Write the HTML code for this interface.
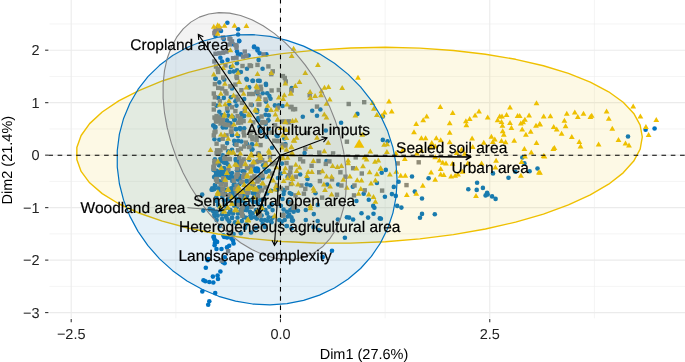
<!DOCTYPE html><html><head><meta charset="utf-8"><title>PCA biplot</title><style>html,body{margin:0;padding:0;background:#fff;overflow:hidden}svg{display:block}</style></head><body><svg width="685" height="362" viewBox="0 0 685 362" text-rendering="geometricPrecision"><rect width="685" height="362" fill="#fff"/><line x1="175.84" y1="0" x2="175.84" y2="318.3" stroke="#EBEBEB" stroke-width="0.55"/><line x1="385.12" y1="0" x2="385.12" y2="318.3" stroke="#EBEBEB" stroke-width="0.55"/><line x1="594.39" y1="0" x2="594.39" y2="318.3" stroke="#EBEBEB" stroke-width="0.55"/><line x1="49.5" y1="23.95" x2="685" y2="23.95" stroke="#EBEBEB" stroke-width="0.55"/><line x1="49.5" y1="76.43" x2="685" y2="76.43" stroke="#EBEBEB" stroke-width="0.55"/><line x1="49.5" y1="128.91" x2="685" y2="128.91" stroke="#EBEBEB" stroke-width="0.55"/><line x1="49.5" y1="181.39" x2="685" y2="181.39" stroke="#EBEBEB" stroke-width="0.55"/><line x1="49.5" y1="233.87" x2="685" y2="233.87" stroke="#EBEBEB" stroke-width="0.55"/><line x1="49.5" y1="286.35" x2="685" y2="286.35" stroke="#EBEBEB" stroke-width="0.55"/><line x1="71.21" y1="0" x2="71.21" y2="318.3" stroke="#EBEBEB" stroke-width="1.1"/><line x1="280.48" y1="0" x2="280.48" y2="318.3" stroke="#EBEBEB" stroke-width="1.1"/><line x1="489.75" y1="0" x2="489.75" y2="318.3" stroke="#EBEBEB" stroke-width="1.1"/><line x1="49.5" y1="50.19" x2="685" y2="50.19" stroke="#EBEBEB" stroke-width="1.1"/><line x1="49.5" y1="102.67" x2="685" y2="102.67" stroke="#EBEBEB" stroke-width="1.1"/><line x1="49.5" y1="155.15" x2="685" y2="155.15" stroke="#EBEBEB" stroke-width="1.1"/><line x1="49.5" y1="207.63" x2="685" y2="207.63" stroke="#EBEBEB" stroke-width="1.1"/><line x1="49.5" y1="260.11" x2="685" y2="260.11" stroke="#EBEBEB" stroke-width="1.1"/><line x1="49.5" y1="312.59" x2="685" y2="312.59" stroke="#EBEBEB" stroke-width="1.1"/><g><circle cx="628.0" cy="136.5" r="2.3" fill="#0073C2"/><circle cx="645.6" cy="129.8" r="2.3" fill="#0073C2"/><circle cx="654.6" cy="128.5" r="2.3" fill="#0073C2"/><circle cx="382.8" cy="116.4" r="2.3" fill="#0073C2"/><circle cx="382.8" cy="139.9" r="2.3" fill="#0073C2"/><circle cx="387.6" cy="141.2" r="2.3" fill="#0073C2"/><circle cx="385.8" cy="169.9" r="2.3" fill="#0073C2"/><circle cx="381.7" cy="172.7" r="2.3" fill="#0073C2"/><circle cx="412.0" cy="176.5" r="2.3" fill="#0073C2"/><circle cx="428.6" cy="178.2" r="2.3" fill="#0073C2"/><circle cx="398.6" cy="181.7" r="2.3" fill="#0073C2"/><circle cx="393.8" cy="186.9" r="2.3" fill="#0073C2"/><circle cx="414.8" cy="191.6" r="2.3" fill="#0073C2"/><circle cx="468.3" cy="189.2" r="2.3" fill="#0073C2"/><circle cx="522.3" cy="157.5" r="2.3" fill="#0073C2"/><circle cx="524.4" cy="163.4" r="2.3" fill="#0073C2"/><circle cx="515.4" cy="171.7" r="2.3" fill="#0073C2"/><circle cx="529.6" cy="171.3" r="2.3" fill="#0073C2"/><circle cx="537.5" cy="168.5" r="2.3" fill="#0073C2"/><circle cx="493.0" cy="173.4" r="2.3" fill="#0073C2"/><circle cx="508.5" cy="177.8" r="2.3" fill="#0073C2"/><circle cx="477.1" cy="182.8" r="2.3" fill="#0073C2"/><circle cx="482.9" cy="187.9" r="2.3" fill="#0073C2"/><circle cx="476.7" cy="189.9" r="2.3" fill="#0073C2"/><circle cx="487.1" cy="192.7" r="2.3" fill="#0073C2"/><circle cx="384.9" cy="196.8" r="2.3" fill="#0073C2"/><circle cx="391.9" cy="194.1" r="2.3" fill="#0073C2"/><circle cx="395.8" cy="195.9" r="2.3" fill="#0073C2"/><circle cx="397.2" cy="205.9" r="2.3" fill="#0073C2"/><circle cx="401.4" cy="207.6" r="2.3" fill="#0073C2"/><circle cx="422.0" cy="198.5" r="2.3" fill="#0073C2"/><circle cx="422.0" cy="213.9" r="2.3" fill="#0073C2"/><circle cx="420.0" cy="217.8" r="2.3" fill="#0073C2"/><circle cx="434.8" cy="214.3" r="2.3" fill="#0073C2"/><circle cx="485.6" cy="195.4" r="2.3" fill="#0073C2"/><circle cx="487.7" cy="194.5" r="2.3" fill="#0073C2"/><circle cx="492.1" cy="196.4" r="2.3" fill="#0073C2"/><circle cx="495.6" cy="198.9" r="2.3" fill="#0073C2"/><circle cx="380.9" cy="218.7" r="2.3" fill="#0073C2"/><circle cx="291.7" cy="88.0" r="2.3" fill="#0073C2"/><circle cx="312.2" cy="110.7" r="2.3" fill="#0073C2"/><circle cx="320.4" cy="109.5" r="2.3" fill="#0073C2"/><circle cx="317.0" cy="115.7" r="2.3" fill="#0073C2"/><circle cx="302.8" cy="116.8" r="2.3" fill="#0073C2"/><circle cx="341.1" cy="122.7" r="2.3" fill="#0073C2"/><circle cx="357.4" cy="113.9" r="2.3" fill="#0073C2"/><circle cx="325.8" cy="130.5" r="2.3" fill="#0073C2"/><circle cx="304.6" cy="153.1" r="2.3" fill="#0073C2"/><circle cx="326.5" cy="161.0" r="2.3" fill="#0073C2"/><circle cx="300.2" cy="174.5" r="2.3" fill="#0073C2"/><circle cx="307.5" cy="178.9" r="2.3" fill="#0073C2"/><circle cx="306.8" cy="184.5" r="2.3" fill="#0073C2"/><circle cx="310.4" cy="185.2" r="2.3" fill="#0073C2"/><circle cx="338.2" cy="184.5" r="2.3" fill="#0073C2"/><circle cx="327.2" cy="184.5" r="2.3" fill="#0073C2"/><circle cx="352.8" cy="186.7" r="2.3" fill="#0073C2"/><circle cx="363.7" cy="193.7" r="2.3" fill="#0073C2"/><circle cx="376.9" cy="183.0" r="2.3" fill="#0073C2"/><circle cx="368.8" cy="199.8" r="2.3" fill="#0073C2"/><circle cx="356.4" cy="201.0" r="2.3" fill="#0073C2"/><circle cx="373.2" cy="205.9" r="2.3" fill="#0073C2"/><circle cx="374.4" cy="207.8" r="2.3" fill="#0073C2"/><circle cx="361.5" cy="213.2" r="2.3" fill="#0073C2"/><circle cx="373.5" cy="213.7" r="2.3" fill="#0073C2"/><circle cx="368.1" cy="217.6" r="2.3" fill="#0073C2"/><circle cx="379.8" cy="218.4" r="2.3" fill="#0073C2"/><circle cx="346.9" cy="217.3" r="2.3" fill="#0073C2"/><circle cx="349.1" cy="217.6" r="2.3" fill="#0073C2"/><circle cx="353.1" cy="219.5" r="2.3" fill="#0073C2"/><circle cx="337.9" cy="219.5" r="2.3" fill="#0073C2"/><circle cx="313.8" cy="214.1" r="2.3" fill="#0073C2"/><circle cx="317.7" cy="221.0" r="2.3" fill="#0073C2"/><circle cx="305.8" cy="220.0" r="2.3" fill="#0073C2"/><circle cx="292.9" cy="220.5" r="2.3" fill="#0073C2"/><circle cx="293.6" cy="210.8" r="2.3" fill="#0073C2"/><circle cx="298.0" cy="210.8" r="2.3" fill="#0073C2"/><circle cx="305.8" cy="210.0" r="2.3" fill="#0073C2"/><circle cx="317.7" cy="204.9" r="2.3" fill="#0073C2"/><circle cx="315.5" cy="193.2" r="2.3" fill="#0073C2"/><circle cx="291.5" cy="194.0" r="2.3" fill="#0073C2"/><circle cx="290.7" cy="202.7" r="2.3" fill="#0073C2"/><circle cx="286.5" cy="226.0" r="2.3" fill="#0073C2"/><circle cx="291.6" cy="228.2" r="2.3" fill="#0073C2"/><circle cx="313.5" cy="227.1" r="2.3" fill="#0073C2"/><circle cx="318.9" cy="230.0" r="2.3" fill="#0073C2"/><circle cx="344.9" cy="237.7" r="2.3" fill="#0073C2"/><circle cx="332.0" cy="250.8" r="2.3" fill="#0073C2"/><circle cx="322.7" cy="257.1" r="2.3" fill="#0073C2"/><circle cx="213.5" cy="236.9" r="2.3" fill="#0073C2"/><circle cx="214.3" cy="239.1" r="2.3" fill="#0073C2"/><circle cx="215.4" cy="240.8" r="2.3" fill="#0073C2"/><circle cx="217.1" cy="241.9" r="2.3" fill="#0073C2"/><circle cx="214.9" cy="243.0" r="2.3" fill="#0073C2"/><circle cx="214.6" cy="245.2" r="2.3" fill="#0073C2"/><circle cx="224.2" cy="236.9" r="2.3" fill="#0073C2"/><circle cx="227.0" cy="237.5" r="2.3" fill="#0073C2"/><circle cx="231.4" cy="238.6" r="2.3" fill="#0073C2"/><circle cx="233.1" cy="240.8" r="2.3" fill="#0073C2"/><circle cx="233.6" cy="243.5" r="2.3" fill="#0073C2"/><circle cx="229.2" cy="245.7" r="2.3" fill="#0073C2"/><circle cx="227.0" cy="247.4" r="2.3" fill="#0073C2"/><circle cx="221.5" cy="249.0" r="2.3" fill="#0073C2"/><circle cx="216.5" cy="249.0" r="2.3" fill="#0073C2"/><circle cx="208.2" cy="259.0" r="2.3" fill="#0073C2"/><circle cx="224.8" cy="257.3" r="2.3" fill="#0073C2"/><circle cx="207.7" cy="260.2" r="2.3" fill="#0073C2"/><circle cx="222.7" cy="262.1" r="2.3" fill="#0073C2"/><circle cx="224.6" cy="263.3" r="2.3" fill="#0073C2"/><circle cx="205.8" cy="267.7" r="2.3" fill="#0073C2"/><circle cx="220.4" cy="271.5" r="2.3" fill="#0073C2"/><circle cx="217.6" cy="275.5" r="2.3" fill="#0073C2"/><circle cx="212.9" cy="276.6" r="2.3" fill="#0073C2"/><circle cx="218.0" cy="279.0" r="2.3" fill="#0073C2"/><circle cx="203.5" cy="280.2" r="2.3" fill="#0073C2"/><circle cx="205.4" cy="281.3" r="2.3" fill="#0073C2"/><circle cx="209.3" cy="282.0" r="2.3" fill="#0073C2"/><circle cx="213.3" cy="282.5" r="2.3" fill="#0073C2"/><circle cx="202.3" cy="291.4" r="2.3" fill="#0073C2"/><circle cx="215.2" cy="293.1" r="2.3" fill="#0073C2"/><circle cx="209.3" cy="301.3" r="2.3" fill="#0073C2"/><circle cx="208.2" cy="304.8" r="2.3" fill="#0073C2"/><circle cx="227.4" cy="22.7" r="2.3" fill="#0073C2"/><circle cx="221.0" cy="31.0" r="2.3" fill="#0073C2"/><circle cx="238.1" cy="29.3" r="2.3" fill="#0073C2"/><circle cx="238.1" cy="34.5" r="2.3" fill="#0073C2"/><circle cx="239.2" cy="40.9" r="2.3" fill="#0073C2"/><circle cx="215.5" cy="36.0" r="2.3" fill="#0073C2"/><circle cx="223.8" cy="39.0" r="2.3" fill="#0073C2"/><circle cx="254.1" cy="46.5" r="2.3" fill="#0073C2"/><circle cx="257.5" cy="48.7" r="2.3" fill="#0073C2"/><circle cx="233.1" cy="44.3" r="2.3" fill="#0073C2"/><circle cx="239.2" cy="41.1" r="2.3" fill="#0073C2"/><circle cx="254.1" cy="47.2" r="2.3" fill="#0073C2"/><circle cx="257.5" cy="50.5" r="2.3" fill="#0073C2"/><circle cx="237.0" cy="51.6" r="2.3" fill="#0073C2"/><circle cx="238.1" cy="54.4" r="2.3" fill="#0073C2"/><circle cx="240.9" cy="54.4" r="2.3" fill="#0073C2"/><circle cx="248.6" cy="55.5" r="2.3" fill="#0073C2"/><circle cx="227.6" cy="59.9" r="2.3" fill="#0073C2"/><circle cx="220.4" cy="57.7" r="2.3" fill="#0073C2"/><circle cx="222.1" cy="61.5" r="2.3" fill="#0073C2"/><circle cx="237.0" cy="63.2" r="2.3" fill="#0073C2"/><circle cx="230.9" cy="67.1" r="2.3" fill="#0073C2"/><circle cx="229.8" cy="72.0" r="2.3" fill="#0073C2"/><circle cx="233.7" cy="71.5" r="2.3" fill="#0073C2"/><circle cx="237.0" cy="70.4" r="2.3" fill="#0073C2"/><circle cx="240.9" cy="72.0" r="2.3" fill="#0073C2"/><circle cx="247.0" cy="68.7" r="2.3" fill="#0073C2"/><circle cx="258.6" cy="59.9" r="2.3" fill="#0073C2"/><circle cx="246.4" cy="78.7" r="2.3" fill="#0073C2"/><circle cx="215.5" cy="78.7" r="2.3" fill="#0073C2"/><circle cx="259.7" cy="53.3" r="2.3" fill="#0073C2"/><circle cx="266.4" cy="54.4" r="2.3" fill="#0073C2"/><circle cx="262.6" cy="68.7" r="2.3" fill="#0073C2"/><circle cx="252.9" cy="80.9" r="2.3" fill="#0073C2"/><circle cx="259.7" cy="80.9" r="2.3" fill="#0073C2"/><circle cx="265.9" cy="83.8" r="2.3" fill="#0073C2"/><circle cx="215.5" cy="78.6" r="2.3" fill="#0073C2"/><circle cx="224.3" cy="79.7" r="2.3" fill="#0073C2"/><circle cx="247.0" cy="79.7" r="2.3" fill="#0073C2"/><circle cx="252.5" cy="80.8" r="2.3" fill="#0073C2"/><circle cx="258.0" cy="80.8" r="2.3" fill="#0073C2"/><circle cx="219.3" cy="82.4" r="2.3" fill="#0073C2"/><circle cx="232.0" cy="88.5" r="2.3" fill="#0073C2"/><circle cx="249.2" cy="87.4" r="2.3" fill="#0073C2"/><circle cx="257.5" cy="93.5" r="2.3" fill="#0073C2"/><circle cx="223.8" cy="97.9" r="2.3" fill="#0073C2"/><circle cx="230.9" cy="97.3" r="2.3" fill="#0073C2"/><circle cx="218.2" cy="97.9" r="2.3" fill="#0073C2"/><circle cx="235.4" cy="101.2" r="2.3" fill="#0073C2"/><circle cx="236.5" cy="105.6" r="2.3" fill="#0073C2"/><circle cx="244.2" cy="99.0" r="2.3" fill="#0073C2"/><circle cx="251.9" cy="105.1" r="2.3" fill="#0073C2"/><circle cx="216.6" cy="105.6" r="2.3" fill="#0073C2"/><circle cx="229.3" cy="104.5" r="2.3" fill="#0073C2"/><circle cx="219.3" cy="111.7" r="2.3" fill="#0073C2"/><circle cx="227.6" cy="111.1" r="2.3" fill="#0073C2"/><circle cx="241.4" cy="113.4" r="2.3" fill="#0073C2"/><circle cx="256.9" cy="112.3" r="2.3" fill="#0073C2"/><circle cx="228.2" cy="115.6" r="2.3" fill="#0073C2"/><circle cx="242.0" cy="116.7" r="2.3" fill="#0073C2"/><circle cx="266.0" cy="85.0" r="2.3" fill="#0073C2"/><circle cx="256.7" cy="91.6" r="2.3" fill="#0073C2"/><circle cx="262.7" cy="93.3" r="2.3" fill="#0073C2"/><circle cx="267.2" cy="93.3" r="2.3" fill="#0073C2"/><circle cx="269.4" cy="96.0" r="2.3" fill="#0073C2"/><circle cx="270.5" cy="98.8" r="2.3" fill="#0073C2"/><circle cx="266.0" cy="101.6" r="2.3" fill="#0073C2"/><circle cx="274.9" cy="105.4" r="2.3" fill="#0073C2"/><circle cx="278.8" cy="105.4" r="2.3" fill="#0073C2"/><circle cx="282.6" cy="106.0" r="2.3" fill="#0073C2"/><circle cx="266.6" cy="109.9" r="2.3" fill="#0073C2"/><circle cx="257.2" cy="110.4" r="2.3" fill="#0073C2"/><circle cx="265.5" cy="114.8" r="2.3" fill="#0073C2"/><circle cx="268.8" cy="115.4" r="2.3" fill="#0073C2"/><circle cx="268.3" cy="120.4" r="2.3" fill="#0073C2"/><circle cx="258.3" cy="120.4" r="2.3" fill="#0073C2"/><circle cx="213.3" cy="125.5" r="2.3" fill="#0073C2"/><circle cx="215.5" cy="127.1" r="2.3" fill="#0073C2"/><circle cx="222.7" cy="127.1" r="2.3" fill="#0073C2"/><circle cx="226.5" cy="120.5" r="2.3" fill="#0073C2"/><circle cx="230.4" cy="123.3" r="2.3" fill="#0073C2"/><circle cx="234.2" cy="120.0" r="2.3" fill="#0073C2"/><circle cx="232.6" cy="116.7" r="2.3" fill="#0073C2"/><circle cx="244.2" cy="116.1" r="2.3" fill="#0073C2"/><circle cx="235.9" cy="129.3" r="2.3" fill="#0073C2"/><circle cx="240.3" cy="129.3" r="2.3" fill="#0073C2"/><circle cx="244.2" cy="128.2" r="2.3" fill="#0073C2"/><circle cx="232.0" cy="134.9" r="2.3" fill="#0073C2"/><circle cx="214.4" cy="139.3" r="2.3" fill="#0073C2"/><circle cx="219.3" cy="139.8" r="2.3" fill="#0073C2"/><circle cx="227.1" cy="143.1" r="2.3" fill="#0073C2"/><circle cx="234.2" cy="140.9" r="2.3" fill="#0073C2"/><circle cx="238.1" cy="140.9" r="2.3" fill="#0073C2"/><circle cx="241.4" cy="141.5" r="2.3" fill="#0073C2"/><circle cx="234.8" cy="144.2" r="2.3" fill="#0073C2"/><circle cx="232.0" cy="149.8" r="2.3" fill="#0073C2"/><circle cx="228.2" cy="151.4" r="2.3" fill="#0073C2"/><circle cx="246.9" cy="143.7" r="2.3" fill="#0073C2"/><circle cx="251.9" cy="144.2" r="2.3" fill="#0073C2"/><circle cx="252.5" cy="149.2" r="2.3" fill="#0073C2"/><circle cx="238.1" cy="136.0" r="2.3" fill="#0073C2"/><circle cx="258.3" cy="118.0" r="2.3" fill="#0073C2"/><circle cx="268.2" cy="120.2" r="2.3" fill="#0073C2"/><circle cx="259.4" cy="126.8" r="2.3" fill="#0073C2"/><circle cx="260.5" cy="131.3" r="2.3" fill="#0073C2"/><circle cx="266.6" cy="136.8" r="2.3" fill="#0073C2"/><circle cx="277.6" cy="136.2" r="2.3" fill="#0073C2"/><circle cx="284.3" cy="138.4" r="2.3" fill="#0073C2"/><circle cx="285.4" cy="144.0" r="2.3" fill="#0073C2"/><circle cx="272.1" cy="147.8" r="2.3" fill="#0073C2"/><circle cx="252.2" cy="144.5" r="2.3" fill="#0073C2"/><circle cx="251.7" cy="150.0" r="2.3" fill="#0073C2"/><circle cx="258.8" cy="153.4" r="2.3" fill="#0073C2"/><circle cx="214.9" cy="159.2" r="2.3" fill="#0073C2"/><circle cx="222.7" cy="160.8" r="2.3" fill="#0073C2"/><circle cx="225.4" cy="163.0" r="2.3" fill="#0073C2"/><circle cx="222.7" cy="155.3" r="2.3" fill="#0073C2"/><circle cx="235.9" cy="160.8" r="2.3" fill="#0073C2"/><circle cx="249.2" cy="159.7" r="2.3" fill="#0073C2"/><circle cx="216.0" cy="172.4" r="2.3" fill="#0073C2"/><circle cx="215.5" cy="175.7" r="2.3" fill="#0073C2"/><circle cx="219.3" cy="174.1" r="2.3" fill="#0073C2"/><circle cx="222.7" cy="173.5" r="2.3" fill="#0073C2"/><circle cx="232.0" cy="173.0" r="2.3" fill="#0073C2"/><circle cx="238.1" cy="169.7" r="2.3" fill="#0073C2"/><circle cx="242.5" cy="171.3" r="2.3" fill="#0073C2"/><circle cx="229.3" cy="177.9" r="2.3" fill="#0073C2"/><circle cx="232.6" cy="177.4" r="2.3" fill="#0073C2"/><circle cx="238.1" cy="179.6" r="2.3" fill="#0073C2"/><circle cx="246.9" cy="180.7" r="2.3" fill="#0073C2"/><circle cx="214.9" cy="185.1" r="2.3" fill="#0073C2"/><circle cx="212.2" cy="188.4" r="2.3" fill="#0073C2"/><circle cx="218.2" cy="188.4" r="2.3" fill="#0073C2"/><circle cx="233.7" cy="185.1" r="2.3" fill="#0073C2"/><circle cx="232.6" cy="188.4" r="2.3" fill="#0073C2"/><circle cx="237.0" cy="190.1" r="2.3" fill="#0073C2"/><circle cx="244.2" cy="190.6" r="2.3" fill="#0073C2"/><circle cx="219.3" cy="165.2" r="2.3" fill="#0073C2"/><circle cx="224.0" cy="168.0" r="2.3" fill="#0073C2"/><circle cx="227.5" cy="170.5" r="2.3" fill="#0073C2"/><circle cx="213.5" cy="170.0" r="2.3" fill="#0073C2"/><circle cx="258.3" cy="160.8" r="2.3" fill="#0073C2"/><circle cx="264.4" cy="167.5" r="2.3" fill="#0073C2"/><circle cx="268.8" cy="170.8" r="2.3" fill="#0073C2"/><circle cx="262.2" cy="177.4" r="2.3" fill="#0073C2"/><circle cx="282.0" cy="163.6" r="2.3" fill="#0073C2"/><circle cx="280.9" cy="173.5" r="2.3" fill="#0073C2"/><circle cx="287.6" cy="176.9" r="2.3" fill="#0073C2"/><circle cx="252.2" cy="185.7" r="2.3" fill="#0073C2"/><circle cx="258.8" cy="187.4" r="2.3" fill="#0073C2"/><circle cx="271.0" cy="190.7" r="2.3" fill="#0073C2"/><circle cx="284.3" cy="190.7" r="2.3" fill="#0073C2"/><circle cx="266.0" cy="172.0" r="2.3" fill="#0073C2"/><circle cx="278.0" cy="178.0" r="2.3" fill="#0073C2"/><circle cx="211.6" cy="189.7" r="2.3" fill="#0073C2"/><circle cx="214.3" cy="189.1" r="2.3" fill="#0073C2"/><circle cx="202.2" cy="194.6" r="2.3" fill="#0073C2"/><circle cx="203.3" cy="210.6" r="2.3" fill="#0073C2"/><circle cx="209.9" cy="209.5" r="2.3" fill="#0073C2"/><circle cx="213.2" cy="211.2" r="2.3" fill="#0073C2"/><circle cx="216.6" cy="211.7" r="2.3" fill="#0073C2"/><circle cx="214.3" cy="214.5" r="2.3" fill="#0073C2"/><circle cx="217.7" cy="215.6" r="2.3" fill="#0073C2"/><circle cx="222.1" cy="214.5" r="2.3" fill="#0073C2"/><circle cx="225.9" cy="216.1" r="2.3" fill="#0073C2"/><circle cx="228.7" cy="213.9" r="2.3" fill="#0073C2"/><circle cx="230.4" cy="210.1" r="2.3" fill="#0073C2"/><circle cx="233.1" cy="213.4" r="2.3" fill="#0073C2"/><circle cx="238.1" cy="213.4" r="2.3" fill="#0073C2"/><circle cx="240.8" cy="210.1" r="2.3" fill="#0073C2"/><circle cx="244.2" cy="207.3" r="2.3" fill="#0073C2"/><circle cx="246.4" cy="210.1" r="2.3" fill="#0073C2"/><circle cx="243.0" cy="215.6" r="2.3" fill="#0073C2"/><circle cx="246.4" cy="217.8" r="2.3" fill="#0073C2"/><circle cx="237.5" cy="217.8" r="2.3" fill="#0073C2"/><circle cx="232.0" cy="217.8" r="2.3" fill="#0073C2"/><circle cx="227.6" cy="219.5" r="2.3" fill="#0073C2"/><circle cx="222.1" cy="218.9" r="2.3" fill="#0073C2"/><circle cx="216.6" cy="220.0" r="2.3" fill="#0073C2"/><circle cx="234.2" cy="205.7" r="2.3" fill="#0073C2"/><circle cx="225.4" cy="189.7" r="2.3" fill="#0073C2"/><circle cx="230.9" cy="190.2" r="2.3" fill="#0073C2"/><circle cx="233.1" cy="194.1" r="2.3" fill="#0073C2"/><circle cx="237.5" cy="199.0" r="2.3" fill="#0073C2"/><circle cx="241.9" cy="200.7" r="2.3" fill="#0073C2"/><circle cx="245.3" cy="203.5" r="2.3" fill="#0073C2"/><circle cx="246.4" cy="224.4" r="2.3" fill="#0073C2"/><circle cx="236.4" cy="223.3" r="2.3" fill="#0073C2"/><circle cx="241.9" cy="221.1" r="2.3" fill="#0073C2"/><circle cx="219.9" cy="207.3" r="2.3" fill="#0073C2"/><circle cx="226.5" cy="207.9" r="2.3" fill="#0073C2"/><circle cx="238.0" cy="203.0" r="2.3" fill="#0073C2"/><circle cx="229.0" cy="198.0" r="2.3" fill="#0073C2"/><circle cx="244.0" cy="196.0" r="2.3" fill="#0073C2"/><circle cx="248.3" cy="191.3" r="2.3" fill="#0073C2"/><circle cx="252.7" cy="193.0" r="2.3" fill="#0073C2"/><circle cx="247.2" cy="207.9" r="2.3" fill="#0073C2"/><circle cx="250.0" cy="211.7" r="2.3" fill="#0073C2"/><circle cx="252.7" cy="213.4" r="2.3" fill="#0073C2"/><circle cx="250.5" cy="215.6" r="2.3" fill="#0073C2"/><circle cx="254.9" cy="217.2" r="2.3" fill="#0073C2"/><circle cx="261.6" cy="215.6" r="2.3" fill="#0073C2"/><circle cx="265.4" cy="210.1" r="2.3" fill="#0073C2"/><circle cx="267.1" cy="213.4" r="2.3" fill="#0073C2"/><circle cx="268.7" cy="217.2" r="2.3" fill="#0073C2"/><circle cx="264.9" cy="220.0" r="2.3" fill="#0073C2"/><circle cx="270.9" cy="221.1" r="2.3" fill="#0073C2"/><circle cx="262.7" cy="223.9" r="2.3" fill="#0073C2"/><circle cx="269.3" cy="206.8" r="2.3" fill="#0073C2"/><circle cx="272.6" cy="210.1" r="2.3" fill="#0073C2"/><circle cx="272.0" cy="204.6" r="2.3" fill="#0073C2"/><circle cx="264.3" cy="199.0" r="2.3" fill="#0073C2"/><circle cx="267.1" cy="193.5" r="2.3" fill="#0073C2"/><circle cx="277.0" cy="189.7" r="2.3" fill="#0073C2"/><circle cx="283.1" cy="189.7" r="2.3" fill="#0073C2"/><circle cx="283.6" cy="194.1" r="2.3" fill="#0073C2"/><circle cx="282.5" cy="199.0" r="2.3" fill="#0073C2"/><circle cx="280.9" cy="205.7" r="2.3" fill="#0073C2"/><circle cx="283.6" cy="209.5" r="2.3" fill="#0073C2"/><circle cx="283.1" cy="214.5" r="2.3" fill="#0073C2"/><circle cx="286.9" cy="211.7" r="2.3" fill="#0073C2"/><circle cx="290.3" cy="210.1" r="2.3" fill="#0073C2"/><circle cx="293.6" cy="211.7" r="2.3" fill="#0073C2"/><circle cx="289.2" cy="214.5" r="2.3" fill="#0073C2"/><circle cx="291.4" cy="217.2" r="2.3" fill="#0073C2"/><circle cx="284.7" cy="220.0" r="2.3" fill="#0073C2"/><circle cx="279.2" cy="220.0" r="2.3" fill="#0073C2"/><circle cx="292.5" cy="220.6" r="2.3" fill="#0073C2"/><circle cx="288.6" cy="201.8" r="2.3" fill="#0073C2"/><circle cx="292.5" cy="207.9" r="2.3" fill="#0073C2"/><circle cx="289.7" cy="193.0" r="2.3" fill="#0073C2"/><circle cx="272.6" cy="217.8" r="2.3" fill="#0073C2"/><circle cx="260.5" cy="210.1" r="2.3" fill="#0073C2"/><circle cx="256.0" cy="202.0" r="2.3" fill="#0073C2"/><circle cx="251.0" cy="200.0" r="2.3" fill="#0073C2"/><circle cx="214.6" cy="216.5" r="2.3" fill="#0073C2"/><circle cx="226.3" cy="217.2" r="2.3" fill="#0073C2"/><circle cx="232.1" cy="217.9" r="2.3" fill="#0073C2"/><circle cx="243.8" cy="217.2" r="2.3" fill="#0073C2"/><circle cx="251.1" cy="217.9" r="2.3" fill="#0073C2"/><circle cx="256.9" cy="218.6" r="2.3" fill="#0073C2"/><circle cx="261.3" cy="220.1" r="2.3" fill="#0073C2"/><circle cx="267.2" cy="220.8" r="2.3" fill="#0073C2"/><circle cx="271.5" cy="222.3" r="2.3" fill="#0073C2"/><circle cx="281.8" cy="221.6" r="2.3" fill="#0073C2"/><circle cx="287.6" cy="216.5" r="2.3" fill="#0073C2"/><circle cx="292.0" cy="220.8" r="2.3" fill="#0073C2"/><circle cx="286.9" cy="226.0" r="2.3" fill="#0073C2"/><circle cx="229.2" cy="221.6" r="2.3" fill="#0073C2"/><circle cx="235.0" cy="222.3" r="2.3" fill="#0073C2"/><circle cx="251.1" cy="232.5" r="2.3" fill="#0073C2"/><circle cx="240.9" cy="233.2" r="2.3" fill="#0073C2"/><circle cx="233.6" cy="234.0" r="2.3" fill="#0073C2"/><circle cx="223.4" cy="235.4" r="2.3" fill="#0073C2"/><circle cx="227.7" cy="236.9" r="2.3" fill="#0073C2"/><circle cx="213.9" cy="236.9" r="2.3" fill="#0073C2"/><circle cx="245.0" cy="228.0" r="2.3" fill="#0073C2"/><circle cx="256.0" cy="228.0" r="2.3" fill="#0073C2"/><circle cx="220.0" cy="226.0" r="2.3" fill="#0073C2"/><circle cx="265.0" cy="227.0" r="2.3" fill="#0073C2"/><circle cx="220.4" cy="158.8" r="2.3" fill="#0073C2"/><circle cx="221.3" cy="161.3" r="2.3" fill="#0073C2"/><circle cx="224.0" cy="162.4" r="2.3" fill="#0073C2"/><circle cx="226.2" cy="161.9" r="2.3" fill="#0073C2"/><circle cx="219.0" cy="165.2" r="2.3" fill="#0073C2"/><circle cx="216.8" cy="170.7" r="2.3" fill="#0073C2"/><circle cx="216.3" cy="172.9" r="2.3" fill="#0073C2"/><circle cx="219.0" cy="172.4" r="2.3" fill="#0073C2"/><circle cx="221.8" cy="171.3" r="2.3" fill="#0073C2"/><circle cx="223.5" cy="170.7" r="2.3" fill="#0073C2"/><circle cx="222.9" cy="174.0" r="2.3" fill="#0073C2"/><circle cx="220.2" cy="175.1" r="2.3" fill="#0073C2"/><circle cx="216.8" cy="176.2" r="2.3" fill="#0073C2"/><circle cx="230.1" cy="174.0" r="2.3" fill="#0073C2"/><circle cx="231.2" cy="176.2" r="2.3" fill="#0073C2"/><circle cx="226.2" cy="176.8" r="2.3" fill="#0073C2"/><circle cx="235.6" cy="159.1" r="2.3" fill="#0073C2"/><circle cx="237.0" cy="170.2" r="2.3" fill="#0073C2"/><circle cx="227.9" cy="164.6" r="2.3" fill="#0073C2"/><circle cx="237.7" cy="159.7" r="2.3" fill="#0073C2"/><circle cx="238.8" cy="163.5" r="2.3" fill="#0073C2"/><circle cx="238.2" cy="169.9" r="2.3" fill="#0073C2"/><circle cx="244.3" cy="171.3" r="2.3" fill="#0073C2"/><circle cx="248.7" cy="168.2" r="2.3" fill="#0073C2"/><circle cx="239.9" cy="175.7" r="2.3" fill="#0073C2"/><circle cx="260.3" cy="160.2" r="2.3" fill="#0073C2"/><circle cx="263.1" cy="165.2" r="2.3" fill="#0073C2"/><circle cx="214.1" cy="177.1" r="2.3" fill="#0073C2"/><circle cx="215.2" cy="185.4" r="2.3" fill="#0073C2"/><circle cx="212.4" cy="189.8" r="2.3" fill="#0073C2"/><circle cx="219.0" cy="181.0" r="2.3" fill="#0073C2"/><circle cx="221.8" cy="182.1" r="2.3" fill="#0073C2"/><circle cx="229.0" cy="177.7" r="2.3" fill="#0073C2"/><circle cx="232.3" cy="181.0" r="2.3" fill="#0073C2"/><circle cx="234.5" cy="183.7" r="2.3" fill="#0073C2"/><circle cx="231.2" cy="188.2" r="2.3" fill="#0073C2"/><circle cx="232.9" cy="191.5" r="2.3" fill="#0073C2"/><circle cx="235.6" cy="179.3" r="2.3" fill="#0073C2"/><circle cx="225.1" cy="193.7" r="2.3" fill="#0073C2"/><circle cx="230.7" cy="193.7" r="2.3" fill="#0073C2"/><circle cx="219.0" cy="188.7" r="2.3" fill="#0073C2"/><circle cx="220.2" cy="190.9" r="2.3" fill="#0073C2"/><circle cx="237.3" cy="187.0" r="2.3" fill="#0073C2"/><circle cx="237.7" cy="179.3" r="2.3" fill="#0073C2"/><circle cx="240.4" cy="178.2" r="2.3" fill="#0073C2"/><circle cx="246.5" cy="181.5" r="2.3" fill="#0073C2"/><circle cx="239.3" cy="184.3" r="2.3" fill="#0073C2"/><circle cx="259.2" cy="177.1" r="2.3" fill="#0073C2"/><circle cx="262.5" cy="178.2" r="2.3" fill="#0073C2"/><circle cx="260.3" cy="187.0" r="2.3" fill="#0073C2"/><circle cx="257.0" cy="193.7" r="2.3" fill="#0073C2"/><circle cx="254.2" cy="193.1" r="2.3" fill="#0073C2"/><circle cx="244.3" cy="194.2" r="2.3" fill="#0073C2"/><circle cx="216.3" cy="197.3" r="2.3" fill="#0073C2"/><circle cx="216.8" cy="201.2" r="2.3" fill="#0073C2"/><circle cx="218.0" cy="205.0" r="2.3" fill="#0073C2"/><circle cx="209.7" cy="208.9" r="2.3" fill="#0073C2"/><circle cx="213.0" cy="210.0" r="2.3" fill="#0073C2"/><circle cx="221.8" cy="210.6" r="2.3" fill="#0073C2"/><circle cx="225.7" cy="205.0" r="2.3" fill="#0073C2"/><circle cx="224.0" cy="200.6" r="2.3" fill="#0073C2"/><circle cx="229.0" cy="199.5" r="2.3" fill="#0073C2"/><circle cx="235.6" cy="202.3" r="2.3" fill="#0073C2"/><circle cx="234.5" cy="196.2" r="2.3" fill="#0073C2"/><circle cx="230.1" cy="211.7" r="2.3" fill="#0073C2"/><circle cx="236.7" cy="207.3" r="2.3" fill="#0073C2"/><circle cx="222.4" cy="196.8" r="2.3" fill="#0073C2"/><circle cx="240.0" cy="200.0" r="2.3" fill="#0073C2"/><circle cx="245.0" cy="203.0" r="2.3" fill="#0073C2"/><circle cx="250.0" cy="207.0" r="2.3" fill="#0073C2"/><circle cx="244.0" cy="210.0" r="2.3" fill="#0073C2"/><circle cx="240.0" cy="212.0" r="2.3" fill="#0073C2"/><circle cx="250.0" cy="212.0" r="2.3" fill="#0073C2"/><circle cx="256.0" cy="210.0" r="2.3" fill="#0073C2"/><circle cx="262.0" cy="206.0" r="2.3" fill="#0073C2"/><circle cx="260.0" cy="200.0" r="2.3" fill="#0073C2"/><circle cx="254.0" cy="197.0" r="2.3" fill="#0073C2"/><circle cx="247.0" cy="196.0" r="2.3" fill="#0073C2"/><circle cx="243.0" cy="199.0" r="2.3" fill="#0073C2"/><circle cx="258.0" cy="204.0" r="2.3" fill="#0073C2"/><circle cx="253.0" cy="202.0" r="2.3" fill="#0073C2"/><circle cx="265.6" cy="123.8" r="2.3" fill="#0073C2"/><circle cx="268.6" cy="129.0" r="2.3" fill="#0073C2"/><circle cx="276.6" cy="135.5" r="2.3" fill="#0073C2"/><circle cx="213.5" cy="125.5" r="2.3" fill="#0073C2"/><circle cx="215.0" cy="128.0" r="2.3" fill="#0073C2"/><circle cx="223.0" cy="127.5" r="2.3" fill="#0073C2"/><circle cx="226.0" cy="127.5" r="2.3" fill="#0073C2"/><circle cx="227.0" cy="120.5" r="2.3" fill="#0073C2"/><circle cx="228.5" cy="123.0" r="2.3" fill="#0073C2"/><circle cx="235.0" cy="120.0" r="2.3" fill="#0073C2"/><circle cx="236.0" cy="129.0" r="2.3" fill="#0073C2"/><circle cx="240.0" cy="128.0" r="2.3" fill="#0073C2"/><circle cx="221.5" cy="115.0" r="2.3" fill="#0073C2"/><circle cx="232.0" cy="135.0" r="2.3" fill="#0073C2"/><rect x="395.5" y="161.2" width="4.4" height="4.4" fill="#868686"/><rect x="416.5" y="160.1" width="4.4" height="4.4" fill="#868686"/><rect x="404.3" y="182.9" width="4.4" height="4.4" fill="#868686"/><rect x="379.9" y="188.4" width="4.4" height="4.4" fill="#868686"/><rect x="289.3" y="87.9" width="4.4" height="4.4" fill="#868686"/><rect x="289.3" y="104.7" width="4.4" height="4.4" fill="#868686"/><rect x="292.9" y="106.9" width="4.4" height="4.4" fill="#868686"/><rect x="314.8" y="104.4" width="4.4" height="4.4" fill="#868686"/><rect x="346.5" y="101.8" width="4.4" height="4.4" fill="#868686"/><rect x="362.0" y="100.0" width="4.4" height="4.4" fill="#868686"/><rect x="307.5" y="93.0" width="4.4" height="4.4" fill="#868686"/><rect x="344.7" y="139.5" width="4.4" height="4.4" fill="#868686"/><rect x="303.1" y="146.5" width="4.4" height="4.4" fill="#868686"/><rect x="317.0" y="150.4" width="4.4" height="4.4" fill="#868686"/><rect x="330.9" y="151.2" width="4.4" height="4.4" fill="#868686"/><rect x="353.5" y="155.2" width="4.4" height="4.4" fill="#868686"/><rect x="298.0" y="157.0" width="4.4" height="4.4" fill="#868686"/><rect x="300.9" y="159.2" width="4.4" height="4.4" fill="#868686"/><rect x="316.3" y="158.8" width="4.4" height="4.4" fill="#868686"/><rect x="323.6" y="161.7" width="4.4" height="4.4" fill="#868686"/><rect x="309.4" y="163.6" width="4.4" height="4.4" fill="#868686"/><rect x="327.2" y="159.2" width="4.4" height="4.4" fill="#868686"/><rect x="350.9" y="166.0" width="4.4" height="4.4" fill="#868686"/><rect x="359.6" y="171.3" width="4.4" height="4.4" fill="#868686"/><rect x="338.2" y="170.1" width="4.4" height="4.4" fill="#868686"/><rect x="317.0" y="170.1" width="4.4" height="4.4" fill="#868686"/><rect x="343.3" y="174.5" width="4.4" height="4.4" fill="#868686"/><rect x="293.6" y="174.5" width="4.4" height="4.4" fill="#868686"/><rect x="288.5" y="165.5" width="4.4" height="4.4" fill="#868686"/><rect x="288.1" y="170.1" width="4.4" height="4.4" fill="#868686"/><rect x="317.7" y="178.9" width="4.4" height="4.4" fill="#868686"/><rect x="329.8" y="177.2" width="4.4" height="4.4" fill="#868686"/><rect x="339.2" y="183.3" width="4.4" height="4.4" fill="#868686"/><rect x="352.3" y="183.3" width="4.4" height="4.4" fill="#868686"/><rect x="362.5" y="188.1" width="4.4" height="4.4" fill="#868686"/><rect x="299.2" y="183.3" width="4.4" height="4.4" fill="#868686"/><rect x="303.1" y="186.7" width="4.4" height="4.4" fill="#868686"/><rect x="301.7" y="191.5" width="4.4" height="4.4" fill="#868686"/><rect x="293.3" y="193.2" width="4.4" height="4.4" fill="#868686"/><rect x="334.8" y="192.5" width="4.4" height="4.4" fill="#868686"/><rect x="351.8" y="193.2" width="4.4" height="4.4" fill="#868686"/><rect x="319.9" y="195.4" width="4.4" height="4.4" fill="#868686"/><rect x="292.9" y="204.2" width="4.4" height="4.4" fill="#868686"/><rect x="225.9" y="249.0" width="4.4" height="4.4" fill="#868686"/><rect x="212.7" y="29.3" width="4.4" height="4.4" fill="#868686"/><rect x="212.2" y="31.0" width="4.4" height="4.4" fill="#868686"/><rect x="228.2" y="37.1" width="4.4" height="4.4" fill="#868686"/><rect x="229.8" y="39.3" width="4.4" height="4.4" fill="#868686"/><rect x="234.3" y="43.2" width="4.4" height="4.4" fill="#868686"/><rect x="229.3" y="39.5" width="4.4" height="4.4" fill="#868686"/><rect x="227.6" y="42.2" width="4.4" height="4.4" fill="#868686"/><rect x="233.2" y="42.8" width="4.4" height="4.4" fill="#868686"/><rect x="234.3" y="45.5" width="4.4" height="4.4" fill="#868686"/><rect x="213.3" y="51.6" width="4.4" height="4.4" fill="#868686"/><rect x="217.1" y="51.1" width="4.4" height="4.4" fill="#868686"/><rect x="221.0" y="50.5" width="4.4" height="4.4" fill="#868686"/><rect x="224.3" y="49.4" width="4.4" height="4.4" fill="#868686"/><rect x="212.2" y="59.3" width="4.4" height="4.4" fill="#868686"/><rect x="213.8" y="64.3" width="4.4" height="4.4" fill="#868686"/><rect x="215.5" y="67.1" width="4.4" height="4.4" fill="#868686"/><rect x="216.0" y="69.8" width="4.4" height="4.4" fill="#868686"/><rect x="230.9" y="56.0" width="4.4" height="4.4" fill="#868686"/><rect x="234.3" y="55.5" width="4.4" height="4.4" fill="#868686"/><rect x="242.6" y="49.4" width="4.4" height="4.4" fill="#868686"/><rect x="240.9" y="54.4" width="4.4" height="4.4" fill="#868686"/><rect x="244.2" y="53.8" width="4.4" height="4.4" fill="#868686"/><rect x="223.2" y="63.2" width="4.4" height="4.4" fill="#868686"/><rect x="240.3" y="63.8" width="4.4" height="4.4" fill="#868686"/><rect x="247.5" y="63.2" width="4.4" height="4.4" fill="#868686"/><rect x="255.3" y="62.7" width="4.4" height="4.4" fill="#868686"/><rect x="221.0" y="75.4" width="4.4" height="4.4" fill="#868686"/><rect x="234.3" y="74.3" width="4.4" height="4.4" fill="#868686"/><rect x="261.3" y="52.2" width="4.4" height="4.4" fill="#868686"/><rect x="248.8" y="63.8" width="4.4" height="4.4" fill="#868686"/><rect x="266.2" y="64.2" width="4.4" height="4.4" fill="#868686"/><rect x="270.6" y="69.1" width="4.4" height="4.4" fill="#868686"/><rect x="269.1" y="72.0" width="4.4" height="4.4" fill="#868686"/><rect x="280.7" y="73.9" width="4.4" height="4.4" fill="#868686"/><rect x="282.6" y="75.8" width="4.4" height="4.4" fill="#868686"/><rect x="283.6" y="79.3" width="4.4" height="4.4" fill="#868686"/><rect x="258.4" y="84.5" width="4.4" height="4.4" fill="#868686"/><rect x="212.7" y="81.9" width="4.4" height="4.4" fill="#868686"/><rect x="216.0" y="85.7" width="4.4" height="4.4" fill="#868686"/><rect x="219.9" y="86.3" width="4.4" height="4.4" fill="#868686"/><rect x="223.2" y="89.1" width="4.4" height="4.4" fill="#868686"/><rect x="211.6" y="91.3" width="4.4" height="4.4" fill="#868686"/><rect x="212.7" y="95.1" width="4.4" height="4.4" fill="#868686"/><rect x="224.3" y="91.3" width="4.4" height="4.4" fill="#868686"/><rect x="228.2" y="84.1" width="4.4" height="4.4" fill="#868686"/><rect x="233.2" y="82.4" width="4.4" height="4.4" fill="#868686"/><rect x="239.2" y="88.0" width="4.4" height="4.4" fill="#868686"/><rect x="247.0" y="91.8" width="4.4" height="4.4" fill="#868686"/><rect x="250.8" y="91.8" width="4.4" height="4.4" fill="#868686"/><rect x="255.3" y="89.6" width="4.4" height="4.4" fill="#868686"/><rect x="234.3" y="94.6" width="4.4" height="4.4" fill="#868686"/><rect x="235.9" y="97.3" width="4.4" height="4.4" fill="#868686"/><rect x="217.7" y="99.0" width="4.4" height="4.4" fill="#868686"/><rect x="211.6" y="101.8" width="4.4" height="4.4" fill="#868686"/><rect x="211.6" y="107.3" width="4.4" height="4.4" fill="#868686"/><rect x="229.8" y="105.1" width="4.4" height="4.4" fill="#868686"/><rect x="224.9" y="106.2" width="4.4" height="4.4" fill="#868686"/><rect x="233.2" y="108.9" width="4.4" height="4.4" fill="#868686"/><rect x="239.8" y="100.7" width="4.4" height="4.4" fill="#868686"/><rect x="248.6" y="102.3" width="4.4" height="4.4" fill="#868686"/><rect x="256.4" y="102.3" width="4.4" height="4.4" fill="#868686"/><rect x="214.4" y="113.9" width="4.4" height="4.4" fill="#868686"/><rect x="235.4" y="113.9" width="4.4" height="4.4" fill="#868686"/><rect x="242.6" y="108.9" width="4.4" height="4.4" fill="#868686"/><rect x="234.8" y="75.8" width="4.4" height="4.4" fill="#868686"/><rect x="258.9" y="87.2" width="4.4" height="4.4" fill="#868686"/><rect x="269.4" y="88.3" width="4.4" height="4.4" fill="#868686"/><rect x="276.6" y="87.8" width="4.4" height="4.4" fill="#868686"/><rect x="289.3" y="88.3" width="4.4" height="4.4" fill="#868686"/><rect x="257.2" y="94.4" width="4.4" height="4.4" fill="#868686"/><rect x="263.3" y="97.2" width="4.4" height="4.4" fill="#868686"/><rect x="257.2" y="102.1" width="4.4" height="4.4" fill="#868686"/><rect x="275.5" y="105.5" width="4.4" height="4.4" fill="#868686"/><rect x="288.2" y="104.9" width="4.4" height="4.4" fill="#868686"/><rect x="290.9" y="107.1" width="4.4" height="4.4" fill="#868686"/><rect x="259.4" y="114.3" width="4.4" height="4.4" fill="#868686"/><rect x="260.5" y="119.8" width="4.4" height="4.4" fill="#868686"/><rect x="280.4" y="119.3" width="4.4" height="4.4" fill="#868686"/><rect x="286.5" y="119.3" width="4.4" height="4.4" fill="#868686"/><rect x="213.3" y="116.1" width="4.4" height="4.4" fill="#868686"/><rect x="217.1" y="118.9" width="4.4" height="4.4" fill="#868686"/><rect x="213.8" y="119.4" width="4.4" height="4.4" fill="#868686"/><rect x="220.5" y="120.0" width="4.4" height="4.4" fill="#868686"/><rect x="224.3" y="122.7" width="4.4" height="4.4" fill="#868686"/><rect x="229.3" y="124.4" width="4.4" height="4.4" fill="#868686"/><rect x="237.6" y="117.2" width="4.4" height="4.4" fill="#868686"/><rect x="241.4" y="118.9" width="4.4" height="4.4" fill="#868686"/><rect x="235.9" y="120.5" width="4.4" height="4.4" fill="#868686"/><rect x="213.3" y="129.4" width="4.4" height="4.4" fill="#868686"/><rect x="211.6" y="133.2" width="4.4" height="4.4" fill="#868686"/><rect x="229.3" y="129.4" width="4.4" height="4.4" fill="#868686"/><rect x="224.3" y="133.2" width="4.4" height="4.4" fill="#868686"/><rect x="220.5" y="136.5" width="4.4" height="4.4" fill="#868686"/><rect x="214.4" y="141.5" width="4.4" height="4.4" fill="#868686"/><rect x="220.5" y="144.3" width="4.4" height="4.4" fill="#868686"/><rect x="222.7" y="145.9" width="4.4" height="4.4" fill="#868686"/><rect x="214.9" y="148.1" width="4.4" height="4.4" fill="#868686"/><rect x="234.3" y="142.6" width="4.4" height="4.4" fill="#868686"/><rect x="243.6" y="140.4" width="4.4" height="4.4" fill="#868686"/><rect x="242.0" y="144.3" width="4.4" height="4.4" fill="#868686"/><rect x="247.0" y="144.8" width="4.4" height="4.4" fill="#868686"/><rect x="241.4" y="129.9" width="4.4" height="4.4" fill="#868686"/><rect x="242.0" y="133.2" width="4.4" height="4.4" fill="#868686"/><rect x="248.1" y="133.8" width="4.4" height="4.4" fill="#868686"/><rect x="250.3" y="137.1" width="4.4" height="4.4" fill="#868686"/><rect x="249.2" y="129.4" width="4.4" height="4.4" fill="#868686"/><rect x="235.9" y="148.1" width="4.4" height="4.4" fill="#868686"/><rect x="238.7" y="146.5" width="4.4" height="4.4" fill="#868686"/><rect x="218.3" y="148.1" width="4.4" height="4.4" fill="#868686"/><rect x="251.1" y="120.2" width="4.4" height="4.4" fill="#868686"/><rect x="260.0" y="120.8" width="4.4" height="4.4" fill="#868686"/><rect x="263.3" y="120.2" width="4.4" height="4.4" fill="#868686"/><rect x="286.5" y="120.2" width="4.4" height="4.4" fill="#868686"/><rect x="250.0" y="135.1" width="4.4" height="4.4" fill="#868686"/><rect x="254.4" y="134.0" width="4.4" height="4.4" fill="#868686"/><rect x="254.4" y="137.9" width="4.4" height="4.4" fill="#868686"/><rect x="272.1" y="138.5" width="4.4" height="4.4" fill="#868686"/><rect x="275.4" y="139.0" width="4.4" height="4.4" fill="#868686"/><rect x="258.3" y="142.9" width="4.4" height="4.4" fill="#868686"/><rect x="279.8" y="142.3" width="4.4" height="4.4" fill="#868686"/><rect x="283.2" y="143.4" width="4.4" height="4.4" fill="#868686"/><rect x="279.8" y="154.5" width="4.4" height="4.4" fill="#868686"/><rect x="214.4" y="150.9" width="4.4" height="4.4" fill="#868686"/><rect x="222.7" y="155.3" width="4.4" height="4.4" fill="#868686"/><rect x="227.6" y="157.0" width="4.4" height="4.4" fill="#868686"/><rect x="212.2" y="160.8" width="4.4" height="4.4" fill="#868686"/><rect x="211.6" y="165.3" width="4.4" height="4.4" fill="#868686"/><rect x="234.8" y="173.0" width="4.4" height="4.4" fill="#868686"/><rect x="238.1" y="164.1" width="4.4" height="4.4" fill="#868686"/><rect x="239.2" y="159.2" width="4.4" height="4.4" fill="#868686"/><rect x="237.0" y="155.3" width="4.4" height="4.4" fill="#868686"/><rect x="213.8" y="177.4" width="4.4" height="4.4" fill="#868686"/><rect x="214.9" y="179.6" width="4.4" height="4.4" fill="#868686"/><rect x="221.0" y="176.3" width="4.4" height="4.4" fill="#868686"/><rect x="218.8" y="182.4" width="4.4" height="4.4" fill="#868686"/><rect x="223.2" y="182.9" width="4.4" height="4.4" fill="#868686"/><rect x="239.2" y="179.6" width="4.4" height="4.4" fill="#868686"/><rect x="231.5" y="178.5" width="4.4" height="4.4" fill="#868686"/><rect x="248.6" y="177.4" width="4.4" height="4.4" fill="#868686"/><rect x="251.4" y="181.8" width="4.4" height="4.4" fill="#868686"/><rect x="216.8" y="151.3" width="4.4" height="4.4" fill="#868686"/><rect x="254.4" y="159.8" width="4.4" height="4.4" fill="#868686"/><rect x="260.0" y="158.1" width="4.4" height="4.4" fill="#868686"/><rect x="263.3" y="160.8" width="4.4" height="4.4" fill="#868686"/><rect x="269.9" y="162.0" width="4.4" height="4.4" fill="#868686"/><rect x="273.2" y="160.8" width="4.4" height="4.4" fill="#868686"/><rect x="248.9" y="164.2" width="4.4" height="4.4" fill="#868686"/><rect x="258.8" y="171.9" width="4.4" height="4.4" fill="#868686"/><rect x="252.2" y="174.1" width="4.4" height="4.4" fill="#868686"/><rect x="256.6" y="177.4" width="4.4" height="4.4" fill="#868686"/><rect x="269.9" y="171.3" width="4.4" height="4.4" fill="#868686"/><rect x="284.3" y="160.8" width="4.4" height="4.4" fill="#868686"/><rect x="286.5" y="173.0" width="4.4" height="4.4" fill="#868686"/><rect x="288.7" y="181.8" width="4.4" height="4.4" fill="#868686"/><rect x="278.7" y="186.3" width="4.4" height="4.4" fill="#868686"/><rect x="263.3" y="185.2" width="4.4" height="4.4" fill="#868686"/><rect x="256.1" y="151.5" width="4.4" height="4.4" fill="#868686"/><rect x="267.8" y="154.8" width="4.4" height="4.4" fill="#868686"/><rect x="274.8" y="182.8" width="4.4" height="4.4" fill="#868686"/><rect x="220.4" y="186.9" width="4.4" height="4.4" fill="#868686"/><rect x="233.1" y="186.9" width="4.4" height="4.4" fill="#868686"/><rect x="234.8" y="190.8" width="4.4" height="4.4" fill="#868686"/><rect x="239.7" y="204.0" width="4.4" height="4.4" fill="#868686"/><rect x="239.7" y="211.7" width="4.4" height="4.4" fill="#868686"/><rect x="244.5" y="190.8" width="4.4" height="4.4" fill="#868686"/><rect x="257.1" y="212.3" width="4.4" height="4.4" fill="#868686"/><rect x="280.9" y="212.8" width="4.4" height="4.4" fill="#868686"/><rect x="289.2" y="201.3" width="4.4" height="4.4" fill="#868686"/><rect x="284.8" y="185.8" width="4.4" height="4.4" fill="#868686"/><rect x="291.4" y="205.7" width="4.4" height="4.4" fill="#868686"/><rect x="255.8" y="193.8" width="4.4" height="4.4" fill="#868686"/><rect x="240.1" y="213.5" width="4.4" height="4.4" fill="#868686"/><rect x="257.7" y="213.5" width="4.4" height="4.4" fill="#868686"/><rect x="281.0" y="213.5" width="4.4" height="4.4" fill="#868686"/><rect x="228.5" y="230.3" width="4.4" height="4.4" fill="#868686"/><rect x="212.3" y="158.8" width="4.4" height="4.4" fill="#868686"/><rect x="213.8" y="160.8" width="4.4" height="4.4" fill="#868686"/><rect x="211.3" y="164.6" width="4.4" height="4.4" fill="#868686"/><rect x="211.9" y="166.6" width="4.4" height="4.4" fill="#868686"/><rect x="222.4" y="156.6" width="4.4" height="4.4" fill="#868686"/><rect x="226.8" y="156.6" width="4.4" height="4.4" fill="#868686"/><rect x="226.2" y="167.4" width="4.4" height="4.4" fill="#868686"/><rect x="234.5" y="172.4" width="4.4" height="4.4" fill="#868686"/><rect x="239.3" y="159.1" width="4.4" height="4.4" fill="#868686"/><rect x="244.8" y="165.8" width="4.4" height="4.4" fill="#868686"/><rect x="250.4" y="164.1" width="4.4" height="4.4" fill="#868686"/><rect x="234.9" y="166.3" width="4.4" height="4.4" fill="#868686"/><rect x="235.5" y="171.8" width="4.4" height="4.4" fill="#868686"/><rect x="242.1" y="172.4" width="4.4" height="4.4" fill="#868686"/><rect x="257.0" y="159.1" width="4.4" height="4.4" fill="#868686"/><rect x="241.5" y="157.2" width="4.4" height="4.4" fill="#868686"/><rect x="260.3" y="173.5" width="4.4" height="4.4" fill="#868686"/><rect x="238.8" y="161.8" width="4.4" height="4.4" fill="#868686"/><rect x="214.6" y="176.8" width="4.4" height="4.4" fill="#868686"/><rect x="221.3" y="176.0" width="4.4" height="4.4" fill="#868686"/><rect x="218.5" y="182.1" width="4.4" height="4.4" fill="#868686"/><rect x="223.5" y="182.1" width="4.4" height="4.4" fill="#868686"/><rect x="220.7" y="187.1" width="4.4" height="4.4" fill="#868686"/><rect x="234.0" y="174.6" width="4.4" height="4.4" fill="#868686"/><rect x="219.6" y="191.5" width="4.4" height="4.4" fill="#868686"/><rect x="234.5" y="190.9" width="4.4" height="4.4" fill="#868686"/><rect x="241.0" y="174.9" width="4.4" height="4.4" fill="#868686"/><rect x="249.8" y="175.5" width="4.4" height="4.4" fill="#868686"/><rect x="253.7" y="176.0" width="4.4" height="4.4" fill="#868686"/><rect x="255.3" y="179.3" width="4.4" height="4.4" fill="#868686"/><rect x="240.4" y="179.9" width="4.4" height="4.4" fill="#868686"/><rect x="234.4" y="183.8" width="4.4" height="4.4" fill="#868686"/><rect x="256.5" y="189.3" width="4.4" height="4.4" fill="#868686"/><rect x="246.0" y="190.4" width="4.4" height="4.4" fill="#868686"/><rect x="259.8" y="188.2" width="4.4" height="4.4" fill="#868686"/><rect x="226.8" y="192.9" width="4.4" height="4.4" fill="#868686"/><rect x="222.4" y="192.4" width="4.4" height="4.4" fill="#868686"/><rect x="238.2" y="194.0" width="4.4" height="4.4" fill="#868686"/><rect x="240.4" y="205.1" width="4.4" height="4.4" fill="#868686"/><rect x="249.3" y="204.5" width="4.4" height="4.4" fill="#868686"/><rect x="239.3" y="208.9" width="4.4" height="4.4" fill="#868686"/><rect x="236.6" y="202.8" width="4.4" height="4.4" fill="#868686"/><rect x="282.4" y="119.4" width="4.4" height="4.4" fill="#868686"/><rect x="286.8" y="119.4" width="4.4" height="4.4" fill="#868686"/><rect x="305.8" y="130.8" width="4.4" height="4.4" fill="#868686"/><rect x="269.3" y="130.4" width="4.4" height="4.4" fill="#868686"/><rect x="272.9" y="123.1" width="4.4" height="4.4" fill="#868686"/><rect x="212.3" y="115.3" width="4.4" height="4.4" fill="#868686"/><rect x="214.3" y="117.8" width="4.4" height="4.4" fill="#868686"/><rect x="216.8" y="115.3" width="4.4" height="4.4" fill="#868686"/><rect x="220.8" y="116.8" width="4.4" height="4.4" fill="#868686"/><rect x="218.3" y="121.3" width="4.4" height="4.4" fill="#868686"/><rect x="222.3" y="122.3" width="4.4" height="4.4" fill="#868686"/><rect x="225.8" y="122.8" width="4.4" height="4.4" fill="#868686"/><rect x="228.8" y="129.3" width="4.4" height="4.4" fill="#868686"/><rect x="212.3" y="130.3" width="4.4" height="4.4" fill="#868686"/><rect x="238.3" y="116.3" width="4.4" height="4.4" fill="#868686"/><rect x="238.8" y="120.3" width="4.4" height="4.4" fill="#868686"/><rect x="213.8" y="26.8" width="4.4" height="4.4" fill="#868686"/><rect x="217.3" y="26.3" width="4.4" height="4.4" fill="#868686"/><rect x="214.8" y="30.3" width="4.4" height="4.4" fill="#868686"/><rect x="220.8" y="35.3" width="4.4" height="4.4" fill="#868686"/><rect x="227.3" y="36.3" width="4.4" height="4.4" fill="#868686"/><rect x="219.4" y="258.3" width="4.4" height="4.4" fill="#868686"/><path d="M543.7 113.5l2.90 5.02h-5.80z" fill="#EFC000"/><path d="M550.4 113.3l2.90 5.02h-5.80z" fill="#EFC000"/><path d="M566.8 110.8l2.90 5.02h-5.80z" fill="#EFC000"/><path d="M574.8 109.6l2.90 5.02h-5.80z" fill="#EFC000"/><path d="M577.8 114.0l2.90 5.02h-5.80z" fill="#EFC000"/><path d="M583.5 110.8l2.90 5.02h-5.80z" fill="#EFC000"/><path d="M590.4 114.0l2.90 5.02h-5.80z" fill="#EFC000"/><path d="M591.7 112.8l2.90 5.02h-5.80z" fill="#EFC000"/><path d="M564.4 117.8l2.90 5.02h-5.80z" fill="#EFC000"/><path d="M565.6 123.2l2.90 5.02h-5.80z" fill="#EFC000"/><path d="M553.7 124.0l2.90 5.02h-5.80z" fill="#EFC000"/><path d="M556.7 126.5l2.90 5.02h-5.80z" fill="#EFC000"/><path d="M561.6 130.7l2.90 5.02h-5.80z" fill="#EFC000"/><path d="M571.8 133.9l2.90 5.02h-5.80z" fill="#EFC000"/><path d="M579.3 138.9l2.90 5.02h-5.80z" fill="#EFC000"/><path d="M580.5 143.4l2.90 5.02h-5.80z" fill="#EFC000"/><path d="M554.4 145.1l2.90 5.02h-5.80z" fill="#EFC000"/><path d="M543.7 153.1l2.90 5.02h-5.80z" fill="#EFC000"/><path d="M598.6 141.4l2.90 5.02h-5.80z" fill="#EFC000"/><path d="M606.6 108.6l2.90 5.02h-5.80z" fill="#EFC000"/><path d="M608.8 115.8l2.90 5.02h-5.80z" fill="#EFC000"/><path d="M612.3 125.7l2.90 5.02h-5.80z" fill="#EFC000"/><path d="M618.5 137.1l2.90 5.02h-5.80z" fill="#EFC000"/><path d="M625.5 140.4l2.90 5.02h-5.80z" fill="#EFC000"/><path d="M629.0 142.6l2.90 5.02h-5.80z" fill="#EFC000"/><path d="M633.2 103.6l2.90 5.02h-5.80z" fill="#EFC000"/><path d="M640.4 113.5l2.90 5.02h-5.80z" fill="#EFC000"/><path d="M645.9 124.0l2.90 5.02h-5.80z" fill="#EFC000"/><path d="M648.6 131.9l2.90 5.02h-5.80z" fill="#EFC000"/><path d="M656.3 117.0l2.90 5.02h-5.80z" fill="#EFC000"/><path d="M540.0 121.5l2.90 5.02h-5.80z" fill="#EFC000"/><path d="M540.0 169.7l2.90 5.02h-5.80z" fill="#EFC000"/><path d="M389.0 98.6l2.90 5.02h-5.80z" fill="#EFC000"/><path d="M391.7 108.5l2.90 5.02h-5.80z" fill="#EFC000"/><path d="M384.6 109.6l2.90 5.02h-5.80z" fill="#EFC000"/><path d="M440.3 104.1l2.90 5.02h-5.80z" fill="#EFC000"/><path d="M452.7 110.1l2.90 5.02h-5.80z" fill="#EFC000"/><path d="M426.7 113.4l2.90 5.02h-5.80z" fill="#EFC000"/><path d="M423.2 117.2l2.90 5.02h-5.80z" fill="#EFC000"/><path d="M416.2 121.1l2.90 5.02h-5.80z" fill="#EFC000"/><path d="M414.0 129.2l2.90 5.02h-5.80z" fill="#EFC000"/><path d="M421.4 135.2l2.90 5.02h-5.80z" fill="#EFC000"/><path d="M425.6 135.2l2.90 5.02h-5.80z" fill="#EFC000"/><path d="M449.7 120.3l2.90 5.02h-5.80z" fill="#EFC000"/><path d="M449.7 129.7l2.90 5.02h-5.80z" fill="#EFC000"/><path d="M465.9 118.3l2.90 5.02h-5.80z" fill="#EFC000"/><path d="M466.4 122.3l2.90 5.02h-5.80z" fill="#EFC000"/><path d="M436.3 135.2l2.90 5.02h-5.80z" fill="#EFC000"/><path d="M440.7 137.3l2.90 5.02h-5.80z" fill="#EFC000"/><path d="M469.7 115.9l2.90 5.02h-5.80z" fill="#EFC000"/><path d="M449.7 139.3l2.90 5.02h-5.80z" fill="#EFC000"/><path d="M431.8 140.0l2.90 5.02h-5.80z" fill="#EFC000"/><path d="M479.0 108.5l2.90 5.02h-5.80z" fill="#EFC000"/><path d="M475.1 112.4l2.90 5.02h-5.80z" fill="#EFC000"/><path d="M487.7 114.5l2.90 5.02h-5.80z" fill="#EFC000"/><path d="M510.0 104.4l2.90 5.02h-5.80z" fill="#EFC000"/><path d="M536.5 100.3l2.90 5.02h-5.80z" fill="#EFC000"/><path d="M499.7 113.5l2.90 5.02h-5.80z" fill="#EFC000"/><path d="M502.0 113.5l2.90 5.02h-5.80z" fill="#EFC000"/><path d="M506.6 112.1l2.90 5.02h-5.80z" fill="#EFC000"/><path d="M497.6 117.2l2.90 5.02h-5.80z" fill="#EFC000"/><path d="M501.5 119.0l2.90 5.02h-5.80z" fill="#EFC000"/><path d="M502.4 122.8l2.90 5.02h-5.80z" fill="#EFC000"/><path d="M510.0 120.0l2.90 5.02h-5.80z" fill="#EFC000"/><path d="M511.4 125.1l2.90 5.02h-5.80z" fill="#EFC000"/><path d="M517.6 113.1l2.90 5.02h-5.80z" fill="#EFC000"/><path d="M519.7 113.1l2.90 5.02h-5.80z" fill="#EFC000"/><path d="M529.1 112.4l2.90 5.02h-5.80z" fill="#EFC000"/><path d="M524.9 116.8l2.90 5.02h-5.80z" fill="#EFC000"/><path d="M523.1 119.3l2.90 5.02h-5.80z" fill="#EFC000"/><path d="M520.8 120.4l2.90 5.02h-5.80z" fill="#EFC000"/><path d="M522.2 126.5l2.90 5.02h-5.80z" fill="#EFC000"/><path d="M530.7 128.7l2.90 5.02h-5.80z" fill="#EFC000"/><path d="M525.9 131.7l2.90 5.02h-5.80z" fill="#EFC000"/><path d="M536.0 122.8l2.90 5.02h-5.80z" fill="#EFC000"/><path d="M539.7 121.1l2.90 5.02h-5.80z" fill="#EFC000"/><path d="M502.7 128.3l2.90 5.02h-5.80z" fill="#EFC000"/><path d="M503.8 131.7l2.90 5.02h-5.80z" fill="#EFC000"/><path d="M491.4 133.8l2.90 5.02h-5.80z" fill="#EFC000"/><path d="M494.8 136.6l2.90 5.02h-5.80z" fill="#EFC000"/><path d="M492.8 138.9l2.90 5.02h-5.80z" fill="#EFC000"/><path d="M501.5 137.9l2.90 5.02h-5.80z" fill="#EFC000"/><path d="M505.6 139.3l2.90 5.02h-5.80z" fill="#EFC000"/><path d="M514.2 137.7l2.90 5.02h-5.80z" fill="#EFC000"/><path d="M472.1 135.6l2.90 5.02h-5.80z" fill="#EFC000"/><path d="M483.8 139.7l2.90 5.02h-5.80z" fill="#EFC000"/><path d="M536.5 140.0l2.90 5.02h-5.80z" fill="#EFC000"/><path d="M384.1 141.8l2.90 5.02h-5.80z" fill="#EFC000"/><path d="M386.9 149.1l2.90 5.02h-5.80z" fill="#EFC000"/><path d="M404.8 156.0l2.90 5.02h-5.80z" fill="#EFC000"/><path d="M435.2 154.2l2.90 5.02h-5.80z" fill="#EFC000"/><path d="M439.4 157.4l2.90 5.02h-5.80z" fill="#EFC000"/><path d="M442.8 159.7l2.90 5.02h-5.80z" fill="#EFC000"/><path d="M446.0 160.4l2.90 5.02h-5.80z" fill="#EFC000"/><path d="M431.1 169.4l2.90 5.02h-5.80z" fill="#EFC000"/><path d="M440.7 165.9l2.90 5.02h-5.80z" fill="#EFC000"/><path d="M440.7 171.5l2.90 5.02h-5.80z" fill="#EFC000"/><path d="M443.8 172.1l2.90 5.02h-5.80z" fill="#EFC000"/><path d="M451.1 173.5l2.90 5.02h-5.80z" fill="#EFC000"/><path d="M455.2 172.8l2.90 5.02h-5.80z" fill="#EFC000"/><path d="M458.0 171.5l2.90 5.02h-5.80z" fill="#EFC000"/><path d="M462.5 168.7l2.90 5.02h-5.80z" fill="#EFC000"/><path d="M435.2 176.7l2.90 5.02h-5.80z" fill="#EFC000"/><path d="M422.8 182.8l2.90 5.02h-5.80z" fill="#EFC000"/><path d="M400.7 172.8l2.90 5.02h-5.80z" fill="#EFC000"/><path d="M405.3 172.8l2.90 5.02h-5.80z" fill="#EFC000"/><path d="M389.9 171.5l2.90 5.02h-5.80z" fill="#EFC000"/><path d="M396.3 168.7l2.90 5.02h-5.80z" fill="#EFC000"/><path d="M380.7 165.2l2.90 5.02h-5.80z" fill="#EFC000"/><path d="M524.4 145.9l2.90 5.02h-5.80z" fill="#EFC000"/><path d="M531.3 149.4l2.90 5.02h-5.80z" fill="#EFC000"/><path d="M544.4 153.5l2.90 5.02h-5.80z" fill="#EFC000"/><path d="M553.3 145.9l2.90 5.02h-5.80z" fill="#EFC000"/><path d="M525.0 153.5l2.90 5.02h-5.80z" fill="#EFC000"/><path d="M521.6 159.0l2.90 5.02h-5.80z" fill="#EFC000"/><path d="M496.1 157.7l2.90 5.02h-5.80z" fill="#EFC000"/><path d="M495.4 164.5l2.90 5.02h-5.80z" fill="#EFC000"/><path d="M481.6 160.4l2.90 5.02h-5.80z" fill="#EFC000"/><path d="M520.9 172.8l2.90 5.02h-5.80z" fill="#EFC000"/><path d="M538.9 169.4l2.90 5.02h-5.80z" fill="#EFC000"/><path d="M467.8 160.4l2.90 5.02h-5.80z" fill="#EFC000"/><path d="M406.8 192.1l2.90 5.02h-5.80z" fill="#EFC000"/><path d="M416.3 190.8l2.90 5.02h-5.80z" fill="#EFC000"/><path d="M476.0 193.1l2.90 5.02h-5.80z" fill="#EFC000"/><path d="M293.6 45.8l2.90 5.02h-5.80z" fill="#EFC000"/><path d="M291.7 52.9l2.90 5.02h-5.80z" fill="#EFC000"/><path d="M317.9 62.0l2.90 5.02h-5.80z" fill="#EFC000"/><path d="M305.3 70.1l2.90 5.02h-5.80z" fill="#EFC000"/><path d="M299.5 79.1l2.90 5.02h-5.80z" fill="#EFC000"/><path d="M295.3 83.1l2.90 5.02h-5.80z" fill="#EFC000"/><path d="M358.0 74.8l2.90 5.02h-5.80z" fill="#EFC000"/><path d="M324.5 84.7l2.90 5.02h-5.80z" fill="#EFC000"/><path d="M328.5 83.9l2.90 5.02h-5.80z" fill="#EFC000"/><path d="M342.2 85.1l2.90 5.02h-5.80z" fill="#EFC000"/><path d="M290.7 90.5l2.90 5.02h-5.80z" fill="#EFC000"/><path d="M310.1 89.0l2.90 5.02h-5.80z" fill="#EFC000"/><path d="M310.4 95.1l2.90 5.02h-5.80z" fill="#EFC000"/><path d="M315.1 93.1l2.90 5.02h-5.80z" fill="#EFC000"/><path d="M321.0 92.2l2.90 5.02h-5.80z" fill="#EFC000"/><path d="M321.4 88.3l2.90 5.02h-5.80z" fill="#EFC000"/><path d="M329.7 96.6l2.90 5.02h-5.80z" fill="#EFC000"/><path d="M326.5 100.7l2.90 5.02h-5.80z" fill="#EFC000"/><path d="M324.3 111.6l2.90 5.02h-5.80z" fill="#EFC000"/><path d="M326.5 114.5l2.90 5.02h-5.80z" fill="#EFC000"/><path d="M295.8 117.5l2.90 5.02h-5.80z" fill="#EFC000"/><path d="M372.5 99.9l2.90 5.02h-5.80z" fill="#EFC000"/><path d="M373.9 105.8l2.90 5.02h-5.80z" fill="#EFC000"/><path d="M376.9 112.1l2.90 5.02h-5.80z" fill="#EFC000"/><path d="M355.4 112.4l2.90 5.02h-5.80z" fill="#EFC000"/><path d="M382.0 112.7l2.90 5.02h-5.80z" fill="#EFC000"/><path d="M296.6 134.7l2.90 5.02h-5.80z" fill="#EFC000"/><path d="M294.4 137.7l2.90 5.02h-5.80z" fill="#EFC000"/><path d="M317.0 134.7l2.90 5.02h-5.80z" fill="#EFC000"/><path d="M328.2 139.8l2.90 5.02h-5.80z" fill="#EFC000"/><path d="M310.4 143.9l2.90 5.02h-5.80z" fill="#EFC000"/><path d="M291.5 144.2l2.90 5.02h-5.80z" fill="#EFC000"/><path d="M324.3 148.3l2.90 5.02h-5.80z" fill="#EFC000"/><path d="M362.3 131.8l2.90 5.02h-5.80z" fill="#EFC000"/><path d="M370.3 148.6l2.90 5.02h-5.80z" fill="#EFC000"/><path d="M387.1 141.3l2.90 5.02h-5.80z" fill="#EFC000"/><path d="M313.4 158.1l2.90 5.02h-5.80z" fill="#EFC000"/><path d="M295.8 161.7l2.90 5.02h-5.80z" fill="#EFC000"/><path d="M299.5 164.4l2.90 5.02h-5.80z" fill="#EFC000"/><path d="M296.6 167.9l2.90 5.02h-5.80z" fill="#EFC000"/><path d="M308.2 169.0l2.90 5.02h-5.80z" fill="#EFC000"/><path d="M311.9 169.0l2.90 5.02h-5.80z" fill="#EFC000"/><path d="M322.4 168.3l2.90 5.02h-5.80z" fill="#EFC000"/><path d="M332.6 162.9l2.90 5.02h-5.80z" fill="#EFC000"/><path d="M337.4 163.9l2.90 5.02h-5.80z" fill="#EFC000"/><path d="M341.4 162.9l2.90 5.02h-5.80z" fill="#EFC000"/><path d="M348.1 157.4l2.90 5.02h-5.80z" fill="#EFC000"/><path d="M348.1 160.3l2.90 5.02h-5.80z" fill="#EFC000"/><path d="M364.5 154.4l2.90 5.02h-5.80z" fill="#EFC000"/><path d="M366.6 156.6l2.90 5.02h-5.80z" fill="#EFC000"/><path d="M363.0 163.2l2.90 5.02h-5.80z" fill="#EFC000"/><path d="M356.4 165.4l2.90 5.02h-5.80z" fill="#EFC000"/><path d="M369.6 169.3l2.90 5.02h-5.80z" fill="#EFC000"/><path d="M375.0 158.8l2.90 5.02h-5.80z" fill="#EFC000"/><path d="M378.3 157.4l2.90 5.02h-5.80z" fill="#EFC000"/><path d="M380.5 165.8l2.90 5.02h-5.80z" fill="#EFC000"/><path d="M376.9 171.2l2.90 5.02h-5.80z" fill="#EFC000"/><path d="M349.9 173.4l2.90 5.02h-5.80z" fill="#EFC000"/><path d="M306.8 173.1l2.90 5.02h-5.80z" fill="#EFC000"/><path d="M326.5 173.4l2.90 5.02h-5.80z" fill="#EFC000"/><path d="M331.6 173.7l2.90 5.02h-5.80z" fill="#EFC000"/><path d="M292.2 174.1l2.90 5.02h-5.80z" fill="#EFC000"/><path d="M292.6 176.1l2.90 5.02h-5.80z" fill="#EFC000"/><path d="M292.2 180.5l2.90 5.02h-5.80z" fill="#EFC000"/><path d="M298.0 181.6l2.90 5.02h-5.80z" fill="#EFC000"/><path d="M313.4 185.6l2.90 5.02h-5.80z" fill="#EFC000"/><path d="M314.1 187.8l2.90 5.02h-5.80z" fill="#EFC000"/><path d="M323.9 181.6l2.90 5.02h-5.80z" fill="#EFC000"/><path d="M330.1 183.4l2.90 5.02h-5.80z" fill="#EFC000"/><path d="M325.0 187.0l2.90 5.02h-5.80z" fill="#EFC000"/><path d="M331.6 191.4l2.90 5.02h-5.80z" fill="#EFC000"/><path d="M343.3 176.8l2.90 5.02h-5.80z" fill="#EFC000"/><path d="M346.9 184.8l2.90 5.02h-5.80z" fill="#EFC000"/><path d="M357.2 177.2l2.90 5.02h-5.80z" fill="#EFC000"/><path d="M361.5 177.5l2.90 5.02h-5.80z" fill="#EFC000"/><path d="M371.0 180.5l2.90 5.02h-5.80z" fill="#EFC000"/><path d="M375.4 177.5l2.90 5.02h-5.80z" fill="#EFC000"/><path d="M360.8 186.0l2.90 5.02h-5.80z" fill="#EFC000"/><path d="M358.6 190.7l2.90 5.02h-5.80z" fill="#EFC000"/><path d="M368.8 191.4l2.90 5.02h-5.80z" fill="#EFC000"/><path d="M373.5 193.9l2.90 5.02h-5.80z" fill="#EFC000"/><path d="M375.4 198.7l2.90 5.02h-5.80z" fill="#EFC000"/><path d="M298.5 189.9l2.90 5.02h-5.80z" fill="#EFC000"/><path d="M310.4 203.1l2.90 5.02h-5.80z" fill="#EFC000"/><path d="M310.4 205.3l2.90 5.02h-5.80z" fill="#EFC000"/><path d="M213.8 23.8l2.90 5.02h-5.80z" fill="#EFC000"/><path d="M217.7 22.2l2.90 5.02h-5.80z" fill="#EFC000"/><path d="M219.3 23.3l2.90 5.02h-5.80z" fill="#EFC000"/><path d="M224.5 22.7l2.90 5.02h-5.80z" fill="#EFC000"/><path d="M234.5 22.7l2.90 5.02h-5.80z" fill="#EFC000"/><path d="M246.4 23.1l2.90 5.02h-5.80z" fill="#EFC000"/><path d="M217.7 30.8l2.90 5.02h-5.80z" fill="#EFC000"/><path d="M230.4 47.2l2.90 5.02h-5.80z" fill="#EFC000"/><path d="M232.6 62.7l2.90 5.02h-5.80z" fill="#EFC000"/><path d="M223.2 64.9l2.90 5.02h-5.80z" fill="#EFC000"/><path d="M238.1 69.8l2.90 5.02h-5.80z" fill="#EFC000"/><path d="M213.8 71.5l2.90 5.02h-5.80z" fill="#EFC000"/><path d="M257.5 71.0l2.90 5.02h-5.80z" fill="#EFC000"/><path d="M271.3 69.9l2.90 5.02h-5.80z" fill="#EFC000"/><path d="M285.4 80.5l2.90 5.02h-5.80z" fill="#EFC000"/><path d="M256.8 83.4l2.90 5.02h-5.80z" fill="#EFC000"/><path d="M224.9 80.8l2.90 5.02h-5.80z" fill="#EFC000"/><path d="M239.2 79.1l2.90 5.02h-5.80z" fill="#EFC000"/><path d="M246.4 84.6l2.90 5.02h-5.80z" fill="#EFC000"/><path d="M256.4 83.0l2.90 5.02h-5.80z" fill="#EFC000"/><path d="M220.8 90.7l2.90 5.02h-5.80z" fill="#EFC000"/><path d="M233.5 92.4l2.90 5.02h-5.80z" fill="#EFC000"/><path d="M243.6 90.7l2.90 5.02h-5.80z" fill="#EFC000"/><path d="M229.0 97.9l2.90 5.02h-5.80z" fill="#EFC000"/><path d="M225.2 101.2l2.90 5.02h-5.80z" fill="#EFC000"/><path d="M219.7 101.8l2.90 5.02h-5.80z" fill="#EFC000"/><path d="M245.1 104.0l2.90 5.02h-5.80z" fill="#EFC000"/><path d="M245.3 107.8l2.90 5.02h-5.80z" fill="#EFC000"/><path d="M255.2 106.7l2.90 5.02h-5.80z" fill="#EFC000"/><path d="M258.0 96.2l2.90 5.02h-5.80z" fill="#EFC000"/><path d="M224.5 111.2l2.90 5.02h-5.80z" fill="#EFC000"/><path d="M232.0 112.8l2.90 5.02h-5.80z" fill="#EFC000"/><path d="M248.6 111.2l2.90 5.02h-5.80z" fill="#EFC000"/><path d="M257.2 84.5l2.90 5.02h-5.80z" fill="#EFC000"/><path d="M258.9 96.1l2.90 5.02h-5.80z" fill="#EFC000"/><path d="M278.8 94.4l2.90 5.02h-5.80z" fill="#EFC000"/><path d="M284.3 92.2l2.90 5.02h-5.80z" fill="#EFC000"/><path d="M283.2 96.1l2.90 5.02h-5.80z" fill="#EFC000"/><path d="M290.9 90.5l2.90 5.02h-5.80z" fill="#EFC000"/><path d="M287.0 101.6l2.90 5.02h-5.80z" fill="#EFC000"/><path d="M267.7 102.7l2.90 5.02h-5.80z" fill="#EFC000"/><path d="M271.0 107.1l2.90 5.02h-5.80z" fill="#EFC000"/><path d="M276.5 106.6l2.90 5.02h-5.80z" fill="#EFC000"/><path d="M275.4 111.5l2.90 5.02h-5.80z" fill="#EFC000"/><path d="M277.7 116.5l2.90 5.02h-5.80z" fill="#EFC000"/><path d="M285.4 119.3l2.90 5.02h-5.80z" fill="#EFC000"/><path d="M256.1 107.7l2.90 5.02h-5.80z" fill="#EFC000"/><path d="M224.3 112.8l2.90 5.02h-5.80z" fill="#EFC000"/><path d="M231.5 113.4l2.90 5.02h-5.80z" fill="#EFC000"/><path d="M249.7 112.3l2.90 5.02h-5.80z" fill="#EFC000"/><path d="M250.3 117.8l2.90 5.02h-5.80z" fill="#EFC000"/><path d="M233.9 121.4l2.90 5.02h-5.80z" fill="#EFC000"/><path d="M221.0 131.6l2.90 5.02h-5.80z" fill="#EFC000"/><path d="M224.6 132.1l2.90 5.02h-5.80z" fill="#EFC000"/><path d="M228.2 135.8l2.90 5.02h-5.80z" fill="#EFC000"/><path d="M237.0 131.0l2.90 5.02h-5.80z" fill="#EFC000"/><path d="M210.5 147.0l2.90 5.02h-5.80z" fill="#EFC000"/><path d="M228.7 149.2l2.90 5.02h-5.80z" fill="#EFC000"/><path d="M232.6 149.2l2.90 5.02h-5.80z" fill="#EFC000"/><path d="M277.6 116.4l2.90 5.02h-5.80z" fill="#EFC000"/><path d="M285.4 119.1l2.90 5.02h-5.80z" fill="#EFC000"/><path d="M292.5 118.0l2.90 5.02h-5.80z" fill="#EFC000"/><path d="M283.1 132.4l2.90 5.02h-5.80z" fill="#EFC000"/><path d="M286.5 135.1l2.90 5.02h-5.80z" fill="#EFC000"/><path d="M293.6 137.4l2.90 5.02h-5.80z" fill="#EFC000"/><path d="M256.6 141.2l2.90 5.02h-5.80z" fill="#EFC000"/><path d="M291.4 144.0l2.90 5.02h-5.80z" fill="#EFC000"/><path d="M286.5 146.7l2.90 5.02h-5.80z" fill="#EFC000"/><path d="M282.0 144.5l2.90 5.02h-5.80z" fill="#EFC000"/><path d="M268.8 147.8l2.90 5.02h-5.80z" fill="#EFC000"/><path d="M258.8 152.3l2.90 5.02h-5.80z" fill="#EFC000"/><path d="M251.1 151.2l2.90 5.02h-5.80z" fill="#EFC000"/><path d="M292.5 151.2l2.90 5.02h-5.80z" fill="#EFC000"/><path d="M218.0 158.6l2.90 5.02h-5.80z" fill="#EFC000"/><path d="M221.3 165.0l2.90 5.02h-5.80z" fill="#EFC000"/><path d="M229.5 163.0l2.90 5.02h-5.80z" fill="#EFC000"/><path d="M235.0 161.4l2.90 5.02h-5.80z" fill="#EFC000"/><path d="M245.3 160.8l2.90 5.02h-5.80z" fill="#EFC000"/><path d="M226.9 169.9l2.90 5.02h-5.80z" fill="#EFC000"/><path d="M225.4 176.8l2.90 5.02h-5.80z" fill="#EFC000"/><path d="M246.9 172.4l2.90 5.02h-5.80z" fill="#EFC000"/><path d="M250.8 168.6l2.90 5.02h-5.80z" fill="#EFC000"/><path d="M253.0 159.2l2.90 5.02h-5.80z" fill="#EFC000"/><path d="M228.2 186.2l2.90 5.02h-5.80z" fill="#EFC000"/><path d="M238.7 184.6l2.90 5.02h-5.80z" fill="#EFC000"/><path d="M244.2 181.8l2.90 5.02h-5.80z" fill="#EFC000"/><path d="M249.2 184.0l2.90 5.02h-5.80z" fill="#EFC000"/><path d="M230.4 149.8l2.90 5.02h-5.80z" fill="#EFC000"/><path d="M233.7 149.8l2.90 5.02h-5.80z" fill="#EFC000"/><path d="M240.3 150.4l2.90 5.02h-5.80z" fill="#EFC000"/><path d="M251.4 150.9l2.90 5.02h-5.80z" fill="#EFC000"/><path d="M251.7 152.6l2.90 5.02h-5.80z" fill="#EFC000"/><path d="M260.5 153.1l2.90 5.02h-5.80z" fill="#EFC000"/><path d="M269.3 149.8l2.90 5.02h-5.80z" fill="#EFC000"/><path d="M253.9 159.2l2.90 5.02h-5.80z" fill="#EFC000"/><path d="M269.9 157.0l2.90 5.02h-5.80z" fill="#EFC000"/><path d="M266.0 162.0l2.90 5.02h-5.80z" fill="#EFC000"/><path d="M283.1 155.3l2.90 5.02h-5.80z" fill="#EFC000"/><path d="M287.6 154.8l2.90 5.02h-5.80z" fill="#EFC000"/><path d="M285.4 165.3l2.90 5.02h-5.80z" fill="#EFC000"/><path d="M284.3 169.1l2.90 5.02h-5.80z" fill="#EFC000"/><path d="M276.5 164.2l2.90 5.02h-5.80z" fill="#EFC000"/><path d="M268.8 173.6l2.90 5.02h-5.80z" fill="#EFC000"/><path d="M273.2 177.4l2.90 5.02h-5.80z" fill="#EFC000"/><path d="M283.7 178.0l2.90 5.02h-5.80z" fill="#EFC000"/><path d="M262.2 180.2l2.90 5.02h-5.80z" fill="#EFC000"/><path d="M252.2 178.5l2.90 5.02h-5.80z" fill="#EFC000"/><path d="M276.0 183.0l2.90 5.02h-5.80z" fill="#EFC000"/><path d="M254.4 185.2l2.90 5.02h-5.80z" fill="#EFC000"/><path d="M292.0 149.8l2.90 5.02h-5.80z" fill="#EFC000"/><path d="M251.1 166.4l2.90 5.02h-5.80z" fill="#EFC000"/><path d="M287.6 175.2l2.90 5.02h-5.80z" fill="#EFC000"/><path d="M217.7 189.7l2.90 5.02h-5.80z" fill="#EFC000"/><path d="M227.6 186.9l2.90 5.02h-5.80z" fill="#EFC000"/><path d="M238.6 188.0l2.90 5.02h-5.80z" fill="#EFC000"/><path d="M242.5 189.1l2.90 5.02h-5.80z" fill="#EFC000"/><path d="M232.0 200.7l2.90 5.02h-5.80z" fill="#EFC000"/><path d="M227.6 204.6l2.90 5.02h-5.80z" fill="#EFC000"/><path d="M223.7 208.4l2.90 5.02h-5.80z" fill="#EFC000"/><path d="M235.3 207.3l2.90 5.02h-5.80z" fill="#EFC000"/><path d="M247.5 216.7l2.90 5.02h-5.80z" fill="#EFC000"/><path d="M247.2 185.8l2.90 5.02h-5.80z" fill="#EFC000"/><path d="M256.0 186.4l2.90 5.02h-5.80z" fill="#EFC000"/><path d="M270.4 188.0l2.90 5.02h-5.80z" fill="#EFC000"/><path d="M274.8 186.4l2.90 5.02h-5.80z" fill="#EFC000"/><path d="M261.6 205.1l2.90 5.02h-5.80z" fill="#EFC000"/><path d="M274.8 212.8l2.90 5.02h-5.80z" fill="#EFC000"/><path d="M248.3 216.7l2.90 5.02h-5.80z" fill="#EFC000"/><path d="M248.2 217.5l2.90 5.02h-5.80z" fill="#EFC000"/><path d="M238.0 219.0l2.90 5.02h-5.80z" fill="#EFC000"/><path d="M274.5 213.2l2.90 5.02h-5.80z" fill="#EFC000"/><path d="M226.8 169.9l2.90 5.02h-5.80z" fill="#EFC000"/><path d="M245.4 161.3l2.90 5.02h-5.80z" fill="#EFC000"/><path d="M253.7 158.8l2.90 5.02h-5.80z" fill="#EFC000"/><path d="M250.9 168.5l2.90 5.02h-5.80z" fill="#EFC000"/><path d="M247.6 172.4l2.90 5.02h-5.80z" fill="#EFC000"/><path d="M236.6 161.9l2.90 5.02h-5.80z" fill="#EFC000"/><path d="M265.0 162.2l2.90 5.02h-5.80z" fill="#EFC000"/><path d="M248.7 155.0l2.90 5.02h-5.80z" fill="#EFC000"/><path d="M260.3 155.0l2.90 5.02h-5.80z" fill="#EFC000"/><path d="M225.1 176.8l2.90 5.02h-5.80z" fill="#EFC000"/><path d="M227.9 187.1l2.90 5.02h-5.80z" fill="#EFC000"/><path d="M217.9 189.3l2.90 5.02h-5.80z" fill="#EFC000"/><path d="M237.3 186.0l2.90 5.02h-5.80z" fill="#EFC000"/><path d="M247.0 173.5l2.90 5.02h-5.80z" fill="#EFC000"/><path d="M244.3 182.1l2.90 5.02h-5.80z" fill="#EFC000"/><path d="M239.0 184.9l2.90 5.02h-5.80z" fill="#EFC000"/><path d="M249.3 183.2l2.90 5.02h-5.80z" fill="#EFC000"/><path d="M252.6 179.3l2.90 5.02h-5.80z" fill="#EFC000"/><path d="M252.0 184.9l2.90 5.02h-5.80z" fill="#EFC000"/><path d="M256.4 185.4l2.90 5.02h-5.80z" fill="#EFC000"/><path d="M242.6 188.7l2.90 5.02h-5.80z" fill="#EFC000"/><path d="M247.6 185.7l2.90 5.02h-5.80z" fill="#EFC000"/><path d="M263.1 180.4l2.90 5.02h-5.80z" fill="#EFC000"/><path d="M254.2 186.5l2.90 5.02h-5.80z" fill="#EFC000"/><path d="M217.7 191.0l2.90 5.02h-5.80z" fill="#EFC000"/><path d="M231.8 194.0l2.90 5.02h-5.80z" fill="#EFC000"/><path d="M231.8 200.7l2.90 5.02h-5.80z" fill="#EFC000"/><path d="M227.9 204.5l2.90 5.02h-5.80z" fill="#EFC000"/><path d="M224.6 208.4l2.90 5.02h-5.80z" fill="#EFC000"/><path d="M235.1 206.7l2.90 5.02h-5.80z" fill="#EFC000"/><path d="M220.2 203.4l2.90 5.02h-5.80z" fill="#EFC000"/><path d="M245.0 195.2l2.90 5.02h-5.80z" fill="#EFC000"/><path d="M254.2 194.6l2.90 5.02h-5.80z" fill="#EFC000"/><path d="M262.0 205.1l2.90 5.02h-5.80z" fill="#EFC000"/><path d="M236.6 207.3l2.90 5.02h-5.80z" fill="#EFC000"/><path d="M257.0 208.4l2.90 5.02h-5.80z" fill="#EFC000"/><path d="M402.9 147.0l2.90 5.02h-5.80z" fill="#EFC000"/><path d="M421.3 147.4l2.90 5.02h-5.80z" fill="#EFC000"/><path d="M430.9 144.3l2.90 5.02h-5.80z" fill="#EFC000"/><path d="M435.3 143.5l2.90 5.02h-5.80z" fill="#EFC000"/><path d="M416.9 150.5l2.90 5.02h-5.80z" fill="#EFC000"/><path d="M395.9 150.5l2.90 5.02h-5.80z" fill="#EFC000"/><path d="M461.6 146.7l2.90 5.02h-5.80z" fill="#EFC000"/><path d="M464.7 150.8l2.90 5.02h-5.80z" fill="#EFC000"/><path d="M472.7 143.9l2.90 5.02h-5.80z" fill="#EFC000"/><path d="M456.7 150.0l2.90 5.02h-5.80z" fill="#EFC000"/><path d="M452.5 160.7l2.90 5.02h-5.80z" fill="#EFC000"/><path d="M280.6 124.9l2.90 5.02h-5.80z" fill="#EFC000"/><path d="M286.1 127.1l2.90 5.02h-5.80z" fill="#EFC000"/></g><polygon points="642.30,137.00 640.16,125.06 633.75,113.43 623.19,102.29 608.63,91.79 590.28,82.11 568.44,73.38 543.42,65.74 515.62,59.31 485.44,54.19 453.36,50.44 419.84,48.14 385.41,47.30 350.58,47.95 315.89,50.08 281.85,53.65 248.99,58.61 217.80,64.88 188.75,72.38 162.29,80.97 138.82,90.55 118.69,100.95 102.20,112.03 89.62,123.61 81.12,135.52 76.84,147.57 76.84,159.60 81.12,171.40 89.62,182.81 102.20,193.65 118.69,203.76 138.82,212.99 162.29,221.18 188.75,228.23 217.80,234.02 248.99,238.46 281.85,241.49 315.89,243.07 350.58,243.16 385.41,241.77 419.84,238.91 453.36,234.64 485.44,229.01 515.62,222.12 543.42,214.06 568.44,204.95 590.28,194.95 608.63,184.19 623.19,172.84 633.75,161.07 640.16,149.06" fill="#EFC000" fill-opacity="0.1" stroke="#EFC000" stroke-width="1.4" stroke-linejoin="round"/><polygon points="397.12,180.52 396.06,163.87 392.89,147.32 387.66,131.10 380.45,115.46 371.38,100.65 360.57,86.88 348.19,74.37 334.42,63.30 319.49,53.85 303.61,46.14 287.02,40.32 269.98,36.45 252.75,34.60 235.58,34.80 218.73,37.04 202.47,41.29 187.03,47.49 172.65,55.54 159.56,65.32 147.94,76.68 137.98,89.46 129.82,103.44 123.59,118.43 119.38,134.20 117.27,150.50 117.27,167.10 119.38,183.73 123.59,200.15 129.82,216.11 137.98,231.36 147.94,245.68 159.56,258.84 172.65,270.66 187.03,280.94 202.47,289.53 218.73,296.31 235.58,301.17 252.75,304.03 269.98,304.86 287.02,303.64 303.61,300.38 319.49,295.15 334.42,288.01 348.19,279.07 360.57,268.48 371.38,256.39 380.45,242.99 387.66,228.47 392.89,213.07 396.06,197.00" fill="#0073C2" fill-opacity="0.1" stroke="#0073C2" stroke-width="1.2" stroke-linejoin="round"/><polygon points="346.39,181.07 345.69,166.60 343.62,151.67 340.20,136.50 335.48,121.32 329.53,106.37 322.45,91.86 314.34,78.03 305.33,65.07 295.55,53.19 285.15,42.57 274.28,33.36 263.12,25.71 251.84,19.73 240.59,15.51 229.56,13.12 218.90,12.59 208.79,13.94 199.38,17.13 190.80,22.13 183.19,28.85 176.67,37.20 171.33,47.04 167.25,58.24 164.49,70.61 163.10,83.98 163.10,98.13 164.49,112.86 167.25,127.94 171.33,143.14 176.67,158.24 183.19,172.99 190.80,187.19 199.38,200.61 208.80,213.05 218.90,224.33 229.56,234.26 240.59,242.71 251.84,249.54 263.12,254.65 274.28,257.96 285.15,259.42 295.55,259.01 305.33,256.73 314.34,252.63 322.45,246.76 329.53,239.21 335.48,230.10 340.20,219.56 343.62,207.75 345.69,194.86" fill="#868686" fill-opacity="0.1" stroke="#868686" stroke-width="1.1" stroke-linejoin="round"/><circle cx="256.7" cy="169.9" r="3.6" fill="#0073C2"/><path d="M359.2 138.9l5.2 8.8h-10.4z" fill="#EFC000"/><line x1="280.48" y1="0" x2="280.48" y2="318.3" stroke="#000" stroke-width="1.1" stroke-dasharray="4.64,4.65" stroke-dashoffset="1.11"/><line x1="48.33" y1="155.25" x2="685" y2="155.25" stroke="#000" stroke-width="1.1" stroke-dasharray="4.64,4.65"/><g stroke="#000" stroke-width="1.1" stroke-linecap="butt"><line x1="280.2" y1="155.4" x2="198.3" y2="34.4"/><polyline points="203.34,36.85 198.3,34.4 198.70,39.99" fill="none"/><line x1="280.2" y1="155.4" x2="327" y2="137.8"/><polyline points="323.45,142.13 327,137.8 321.48,136.89" fill="none"/><line x1="280.2" y1="155.4" x2="470.8" y2="156.8"/><polyline points="465.93,159.56 470.8,156.8 465.97,153.96" fill="none"/><line x1="280.2" y1="155.4" x2="470.6" y2="157.3"/><polyline points="465.72,160.05 470.6,157.3 465.78,154.45" fill="none"/><line x1="280.2" y1="155.4" x2="218.9" y2="211.0"/><polyline points="220.61,205.67 218.9,211.0 224.37,209.82" fill="none"/><line x1="280.2" y1="155.4" x2="256.8" y2="215.5"/><polyline points="255.95,209.96 256.8,215.5 261.17,212.00" fill="none"/><line x1="280.2" y1="155.4" x2="258.6" y2="213.2"/><polyline points="257.67,207.68 258.6,213.2 262.92,209.64" fill="none"/><line x1="280.2" y1="155.4" x2="274.5" y2="245.3"/><polyline points="272.01,240.28 274.5,245.3 277.60,240.64" fill="none"/></g><line x1="187.5" y1="207.7" x2="218" y2="210.3" stroke="#333" stroke-width="0.6"/><g font-family="Liberation Sans, Arial, sans-serif" font-size="15.5" fill="#000" stroke="#000" stroke-width="0.2" text-rendering="geometricPrecision"><text x="130.3" y="49.6">Cropland area</text><text x="246.8" y="134.8">Agricultural inputs</text><text x="396.1" y="153.4">Sealed soil area</text><text x="451.4" y="172.7">Urban area</text><text x="80.6" y="213.4">Woodland area</text><text x="193.2" y="205.6">Semi-natural open area</text><text x="179.0" y="232.1">Heterogeneous agricultural area</text><text x="178.5" y="261.0">Landscape complexity</text></g><g font-family="Liberation Sans, Arial, sans-serif" font-size="14.5" fill="#222"><line x1="71.21" y1="319.1" x2="71.21" y2="322.2" stroke="#333" stroke-width="1.1"/><text x="71.21" y="338.7" text-anchor="middle">−2.5</text><line x1="280.48" y1="319.1" x2="280.48" y2="322.2" stroke="#333" stroke-width="1.1"/><text x="280.48" y="338.7" text-anchor="middle">0.0</text><line x1="489.75" y1="319.1" x2="489.75" y2="322.2" stroke="#333" stroke-width="1.1"/><text x="489.75" y="338.7" text-anchor="middle">2.5</text><line x1="45.1" y1="50.19" x2="48.4" y2="50.19" stroke="#333" stroke-width="1.1"/><text x="39.6" y="55.49" text-anchor="end">2</text><line x1="45.1" y1="102.67" x2="48.4" y2="102.67" stroke="#333" stroke-width="1.1"/><text x="39.6" y="107.97" text-anchor="end">1</text><line x1="45.1" y1="155.15" x2="48.4" y2="155.15" stroke="#333" stroke-width="1.1"/><text x="39.6" y="160.45" text-anchor="end">0</text><line x1="45.1" y1="207.63" x2="48.4" y2="207.63" stroke="#333" stroke-width="1.1"/><text x="39.6" y="212.93" text-anchor="end">−1</text><line x1="45.1" y1="260.11" x2="48.4" y2="260.11" stroke="#333" stroke-width="1.1"/><text x="39.6" y="265.41" text-anchor="end">−2</text><line x1="45.1" y1="312.59" x2="48.4" y2="312.59" stroke="#333" stroke-width="1.1"/><text x="39.6" y="317.89" text-anchor="end">−3</text></g><text x="364" y="358.5" text-anchor="middle" font-family="Liberation Sans, Arial, sans-serif" font-size="14.5" fill="#000">Dim1 (27.6%)</text><text transform="translate(12.2 160.2) rotate(-90)" text-anchor="middle" font-family="Liberation Sans, Arial, sans-serif" font-size="14.5" fill="#000">Dim2 (21.4%)</text></svg></body></html>
